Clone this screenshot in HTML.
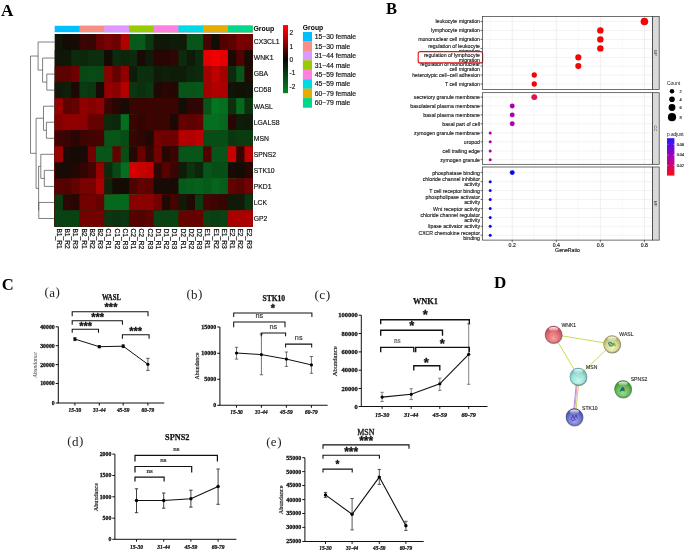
<!DOCTYPE html>
<html lang="en"><head><meta charset="utf-8"><title>Figure</title>
<style>html,body{margin:0;padding:0;background:#fff;}svg{display:block;will-change:transform;}text{white-space:pre;}</style>
</head><body>
<svg width="685" height="552" viewBox="0 0 685 552">
<rect x="0.00" y="0.00" width="685.00" height="552.00" fill="#fff" stroke="none" stroke-width="1"/>
<g id="panelA">
<text x="1.10" y="15.70" font-size="17.2" text-anchor="start" font-family='"Liberation Serif", serif' font-weight="bold" font-style="normal" fill="#000">A</text>
<rect x="54.70" y="25.80" width="198.00" height="6.40" fill="#00BFFF" stroke="none" stroke-width="1"/>
<rect x="79.45" y="25.80" width="173.25" height="6.40" fill="#FB8E84" stroke="none" stroke-width="1"/>
<rect x="104.20" y="25.80" width="148.50" height="6.40" fill="#DD99FF" stroke="none" stroke-width="1"/>
<rect x="128.95" y="25.80" width="123.75" height="6.40" fill="#99CC00" stroke="none" stroke-width="1"/>
<rect x="153.70" y="25.80" width="99.00" height="6.40" fill="#FF80DF" stroke="none" stroke-width="1"/>
<rect x="178.45" y="25.80" width="74.25" height="6.40" fill="#00D9E6" stroke="none" stroke-width="1"/>
<rect x="203.20" y="25.80" width="49.50" height="6.40" fill="#E6AC00" stroke="none" stroke-width="1"/>
<rect x="227.95" y="25.80" width="24.75" height="6.40" fill="#00D98C" stroke="none" stroke-width="1"/>
<rect x="54.70" y="34.00" width="198.00" height="192.50" fill="rgb(16,21,7)" stroke="none" stroke-width="1"/>
<rect x="62.95" y="34.00" width="189.75" height="192.50" fill="rgb(18,12,5)" stroke="none" stroke-width="1"/>
<rect x="71.20" y="34.00" width="181.50" height="192.50" fill="rgb(24,10,4)" stroke="none" stroke-width="1"/>
<rect x="79.45" y="34.00" width="173.25" height="192.50" fill="rgb(60,4,2)" stroke="none" stroke-width="1"/>
<rect x="87.70" y="34.00" width="165.00" height="192.50" fill="rgb(55,5,2)" stroke="none" stroke-width="1"/>
<rect x="95.95" y="34.00" width="156.75" height="192.50" fill="rgb(103,1,1)" stroke="none" stroke-width="1"/>
<rect x="104.20" y="34.00" width="148.50" height="192.50" fill="rgb(121,1,1)" stroke="none" stroke-width="1"/>
<rect x="112.45" y="34.00" width="140.25" height="192.50" fill="rgb(109,1,1)" stroke="none" stroke-width="1"/>
<rect x="120.70" y="34.00" width="132.00" height="192.50" fill="rgb(176,0,0)" stroke="none" stroke-width="1"/>
<rect x="128.95" y="34.00" width="123.75" height="192.50" fill="rgb(6,91,26)" stroke="none" stroke-width="1"/>
<rect x="137.20" y="34.00" width="115.50" height="192.50" fill="rgb(6,91,26)" stroke="none" stroke-width="1"/>
<rect x="145.45" y="34.00" width="107.25" height="192.50" fill="rgb(10,54,16)" stroke="none" stroke-width="1"/>
<rect x="153.70" y="34.00" width="99.00" height="192.50" fill="rgb(15,24,8)" stroke="none" stroke-width="1"/>
<rect x="161.95" y="34.00" width="90.75" height="192.50" fill="rgb(15,24,8)" stroke="none" stroke-width="1"/>
<rect x="170.20" y="34.00" width="82.50" height="192.50" fill="rgb(14,29,9)" stroke="none" stroke-width="1"/>
<rect x="178.45" y="34.00" width="74.25" height="192.50" fill="rgb(15,26,9)" stroke="none" stroke-width="1"/>
<rect x="186.70" y="34.00" width="66.00" height="192.50" fill="rgb(7,85,24)" stroke="none" stroke-width="1"/>
<rect x="194.95" y="34.00" width="57.75" height="192.50" fill="rgb(7,85,24)" stroke="none" stroke-width="1"/>
<rect x="203.20" y="34.00" width="49.50" height="192.50" fill="rgb(71,3,2)" stroke="none" stroke-width="1"/>
<rect x="211.45" y="34.00" width="41.25" height="192.50" fill="rgb(17,15,5)" stroke="none" stroke-width="1"/>
<rect x="219.70" y="34.00" width="33.00" height="192.50" fill="rgb(81,2,1)" stroke="none" stroke-width="1"/>
<rect x="227.95" y="34.00" width="24.75" height="192.50" fill="rgb(92,2,1)" stroke="none" stroke-width="1"/>
<rect x="236.20" y="34.00" width="16.50" height="192.50" fill="rgb(121,1,1)" stroke="none" stroke-width="1"/>
<rect x="244.45" y="34.00" width="8.25" height="192.50" fill="rgb(115,1,1)" stroke="none" stroke-width="1"/>
<rect x="54.70" y="50.04" width="198.00" height="176.46" fill="rgb(15,24,8)" stroke="none" stroke-width="1"/>
<rect x="62.95" y="50.04" width="189.75" height="176.46" fill="rgb(15,24,8)" stroke="none" stroke-width="1"/>
<rect x="71.20" y="50.04" width="181.50" height="176.46" fill="rgb(12,43,13)" stroke="none" stroke-width="1"/>
<rect x="79.45" y="50.04" width="173.25" height="176.46" fill="rgb(12,40,12)" stroke="none" stroke-width="1"/>
<rect x="87.70" y="50.04" width="165.00" height="176.46" fill="rgb(12,45,14)" stroke="none" stroke-width="1"/>
<rect x="95.95" y="50.04" width="156.75" height="176.46" fill="rgb(12,45,14)" stroke="none" stroke-width="1"/>
<rect x="104.20" y="50.04" width="148.50" height="176.46" fill="rgb(21,11,5)" stroke="none" stroke-width="1"/>
<rect x="112.45" y="50.04" width="140.25" height="176.46" fill="rgb(12,43,13)" stroke="none" stroke-width="1"/>
<rect x="120.70" y="50.04" width="132.00" height="176.46" fill="rgb(13,37,11)" stroke="none" stroke-width="1"/>
<rect x="128.95" y="50.04" width="123.75" height="176.46" fill="rgb(12,43,13)" stroke="none" stroke-width="1"/>
<rect x="137.20" y="50.04" width="115.50" height="176.46" fill="rgb(24,10,4)" stroke="none" stroke-width="1"/>
<rect x="145.45" y="50.04" width="107.25" height="176.46" fill="rgb(15,26,9)" stroke="none" stroke-width="1"/>
<rect x="153.70" y="50.04" width="99.00" height="176.46" fill="rgb(41,6,3)" stroke="none" stroke-width="1"/>
<rect x="161.95" y="50.04" width="90.75" height="176.46" fill="rgb(41,6,3)" stroke="none" stroke-width="1"/>
<rect x="170.20" y="50.04" width="82.50" height="176.46" fill="rgb(46,6,3)" stroke="none" stroke-width="1"/>
<rect x="178.45" y="50.04" width="74.25" height="176.46" fill="rgb(12,43,13)" stroke="none" stroke-width="1"/>
<rect x="186.70" y="50.04" width="66.00" height="176.46" fill="rgb(15,26,9)" stroke="none" stroke-width="1"/>
<rect x="194.95" y="50.04" width="57.75" height="176.46" fill="rgb(12,43,13)" stroke="none" stroke-width="1"/>
<rect x="203.20" y="50.04" width="49.50" height="176.46" fill="rgb(228,0,0)" stroke="none" stroke-width="1"/>
<rect x="211.45" y="50.04" width="41.25" height="176.46" fill="rgb(241,0,0)" stroke="none" stroke-width="1"/>
<rect x="219.70" y="50.04" width="33.00" height="176.46" fill="rgb(228,0,0)" stroke="none" stroke-width="1"/>
<rect x="227.95" y="50.04" width="24.75" height="176.46" fill="rgb(28,9,4)" stroke="none" stroke-width="1"/>
<rect x="236.20" y="50.04" width="16.50" height="176.46" fill="rgb(81,2,1)" stroke="none" stroke-width="1"/>
<rect x="244.45" y="50.04" width="8.25" height="176.46" fill="rgb(24,10,4)" stroke="none" stroke-width="1"/>
<rect x="54.70" y="66.08" width="198.00" height="160.42" fill="rgb(92,2,1)" stroke="none" stroke-width="1"/>
<rect x="62.95" y="66.08" width="189.75" height="160.42" fill="rgb(92,2,1)" stroke="none" stroke-width="1"/>
<rect x="71.20" y="66.08" width="181.50" height="160.42" fill="rgb(109,1,1)" stroke="none" stroke-width="1"/>
<rect x="79.45" y="66.08" width="173.25" height="160.42" fill="rgb(8,72,21)" stroke="none" stroke-width="1"/>
<rect x="87.70" y="66.08" width="165.00" height="160.42" fill="rgb(8,75,21)" stroke="none" stroke-width="1"/>
<rect x="95.95" y="66.08" width="156.75" height="160.42" fill="rgb(8,72,21)" stroke="none" stroke-width="1"/>
<rect x="104.20" y="66.08" width="148.50" height="160.42" fill="rgb(139,0,0)" stroke="none" stroke-width="1"/>
<rect x="112.45" y="66.08" width="140.25" height="160.42" fill="rgb(98,2,1)" stroke="none" stroke-width="1"/>
<rect x="120.70" y="66.08" width="132.00" height="160.42" fill="rgb(145,0,0)" stroke="none" stroke-width="1"/>
<rect x="128.95" y="66.08" width="123.75" height="160.42" fill="rgb(14,29,9)" stroke="none" stroke-width="1"/>
<rect x="137.20" y="66.08" width="115.50" height="160.42" fill="rgb(11,48,14)" stroke="none" stroke-width="1"/>
<rect x="145.45" y="66.08" width="107.25" height="160.42" fill="rgb(12,45,14)" stroke="none" stroke-width="1"/>
<rect x="153.70" y="66.08" width="99.00" height="160.42" fill="rgb(15,26,9)" stroke="none" stroke-width="1"/>
<rect x="161.95" y="66.08" width="90.75" height="160.42" fill="rgb(14,32,10)" stroke="none" stroke-width="1"/>
<rect x="170.20" y="66.08" width="82.50" height="160.42" fill="rgb(14,29,9)" stroke="none" stroke-width="1"/>
<rect x="178.45" y="66.08" width="74.25" height="160.42" fill="rgb(14,29,9)" stroke="none" stroke-width="1"/>
<rect x="186.70" y="66.08" width="66.00" height="160.42" fill="rgb(12,40,12)" stroke="none" stroke-width="1"/>
<rect x="194.95" y="66.08" width="57.75" height="160.42" fill="rgb(12,43,13)" stroke="none" stroke-width="1"/>
<rect x="203.20" y="66.08" width="49.50" height="160.42" fill="rgb(163,0,0)" stroke="none" stroke-width="1"/>
<rect x="211.45" y="66.08" width="41.25" height="160.42" fill="rgb(189,0,0)" stroke="none" stroke-width="1"/>
<rect x="219.70" y="66.08" width="33.00" height="160.42" fill="rgb(163,0,0)" stroke="none" stroke-width="1"/>
<rect x="227.95" y="66.08" width="24.75" height="160.42" fill="rgb(12,43,13)" stroke="none" stroke-width="1"/>
<rect x="236.20" y="66.08" width="16.50" height="160.42" fill="rgb(7,85,24)" stroke="none" stroke-width="1"/>
<rect x="244.45" y="66.08" width="8.25" height="160.42" fill="rgb(36,7,3)" stroke="none" stroke-width="1"/>
<rect x="54.70" y="82.12" width="198.00" height="144.38" fill="rgb(15,26,9)" stroke="none" stroke-width="1"/>
<rect x="62.95" y="82.12" width="189.75" height="144.38" fill="rgb(14,32,10)" stroke="none" stroke-width="1"/>
<rect x="71.20" y="82.12" width="181.50" height="144.38" fill="rgb(28,9,4)" stroke="none" stroke-width="1"/>
<rect x="79.45" y="82.12" width="173.25" height="144.38" fill="rgb(10,60,17)" stroke="none" stroke-width="1"/>
<rect x="87.70" y="82.12" width="165.00" height="144.38" fill="rgb(10,54,16)" stroke="none" stroke-width="1"/>
<rect x="95.95" y="82.12" width="156.75" height="144.38" fill="rgb(24,10,4)" stroke="none" stroke-width="1"/>
<rect x="104.20" y="82.12" width="148.50" height="144.38" fill="rgb(151,0,0)" stroke="none" stroke-width="1"/>
<rect x="112.45" y="82.12" width="140.25" height="144.38" fill="rgb(139,0,0)" stroke="none" stroke-width="1"/>
<rect x="120.70" y="82.12" width="132.00" height="144.38" fill="rgb(182,0,0)" stroke="none" stroke-width="1"/>
<rect x="128.95" y="82.12" width="123.75" height="144.38" fill="rgb(10,54,16)" stroke="none" stroke-width="1"/>
<rect x="137.20" y="82.12" width="115.50" height="144.38" fill="rgb(11,48,14)" stroke="none" stroke-width="1"/>
<rect x="145.45" y="82.12" width="107.25" height="144.38" fill="rgb(10,54,16)" stroke="none" stroke-width="1"/>
<rect x="153.70" y="82.12" width="99.00" height="144.38" fill="rgb(32,8,4)" stroke="none" stroke-width="1"/>
<rect x="161.95" y="82.12" width="90.75" height="144.38" fill="rgb(41,6,3)" stroke="none" stroke-width="1"/>
<rect x="170.20" y="82.12" width="82.50" height="144.38" fill="rgb(36,7,3)" stroke="none" stroke-width="1"/>
<rect x="178.45" y="82.12" width="74.25" height="144.38" fill="rgb(7,85,24)" stroke="none" stroke-width="1"/>
<rect x="186.70" y="82.12" width="66.00" height="144.38" fill="rgb(7,85,24)" stroke="none" stroke-width="1"/>
<rect x="194.95" y="82.12" width="57.75" height="144.38" fill="rgb(6,88,25)" stroke="none" stroke-width="1"/>
<rect x="203.20" y="82.12" width="49.50" height="144.38" fill="rgb(163,0,0)" stroke="none" stroke-width="1"/>
<rect x="211.45" y="82.12" width="41.25" height="144.38" fill="rgb(176,0,0)" stroke="none" stroke-width="1"/>
<rect x="219.70" y="82.12" width="33.00" height="144.38" fill="rgb(170,0,0)" stroke="none" stroke-width="1"/>
<rect x="227.95" y="82.12" width="24.75" height="144.38" fill="rgb(16,19,7)" stroke="none" stroke-width="1"/>
<rect x="236.20" y="82.12" width="16.50" height="144.38" fill="rgb(17,17,6)" stroke="none" stroke-width="1"/>
<rect x="244.45" y="82.12" width="8.25" height="144.38" fill="rgb(16,19,7)" stroke="none" stroke-width="1"/>
<rect x="54.70" y="98.17" width="198.00" height="128.33" fill="rgb(151,0,0)" stroke="none" stroke-width="1"/>
<rect x="62.95" y="98.17" width="189.75" height="128.33" fill="rgb(92,2,1)" stroke="none" stroke-width="1"/>
<rect x="71.20" y="98.17" width="181.50" height="128.33" fill="rgb(98,2,1)" stroke="none" stroke-width="1"/>
<rect x="79.45" y="98.17" width="173.25" height="128.33" fill="rgb(145,0,0)" stroke="none" stroke-width="1"/>
<rect x="87.70" y="98.17" width="165.00" height="128.33" fill="rgb(133,1,0)" stroke="none" stroke-width="1"/>
<rect x="95.95" y="98.17" width="156.75" height="128.33" fill="rgb(145,0,0)" stroke="none" stroke-width="1"/>
<rect x="104.20" y="98.17" width="148.50" height="128.33" fill="rgb(60,4,2)" stroke="none" stroke-width="1"/>
<rect x="112.45" y="98.17" width="140.25" height="128.33" fill="rgb(39,7,3)" stroke="none" stroke-width="1"/>
<rect x="120.70" y="98.17" width="132.00" height="128.33" fill="rgb(24,10,4)" stroke="none" stroke-width="1"/>
<rect x="128.95" y="98.17" width="123.75" height="128.33" fill="rgb(57,4,2)" stroke="none" stroke-width="1"/>
<rect x="137.20" y="98.17" width="115.50" height="128.33" fill="rgb(57,4,2)" stroke="none" stroke-width="1"/>
<rect x="145.45" y="98.17" width="107.25" height="128.33" fill="rgb(57,4,2)" stroke="none" stroke-width="1"/>
<rect x="153.70" y="98.17" width="99.00" height="128.33" fill="rgb(55,5,2)" stroke="none" stroke-width="1"/>
<rect x="161.95" y="98.17" width="90.75" height="128.33" fill="rgb(57,4,2)" stroke="none" stroke-width="1"/>
<rect x="170.20" y="98.17" width="82.50" height="128.33" fill="rgb(57,4,2)" stroke="none" stroke-width="1"/>
<rect x="178.45" y="98.17" width="74.25" height="128.33" fill="rgb(17,15,5)" stroke="none" stroke-width="1"/>
<rect x="186.70" y="98.17" width="66.00" height="128.33" fill="rgb(46,6,3)" stroke="none" stroke-width="1"/>
<rect x="194.95" y="98.17" width="57.75" height="128.33" fill="rgb(46,6,3)" stroke="none" stroke-width="1"/>
<rect x="203.20" y="98.17" width="49.50" height="128.33" fill="rgb(7,85,24)" stroke="none" stroke-width="1"/>
<rect x="211.45" y="98.17" width="41.25" height="128.33" fill="rgb(4,117,33)" stroke="none" stroke-width="1"/>
<rect x="219.70" y="98.17" width="33.00" height="128.33" fill="rgb(5,111,31)" stroke="none" stroke-width="1"/>
<rect x="227.95" y="98.17" width="24.75" height="128.33" fill="rgb(11,48,14)" stroke="none" stroke-width="1"/>
<rect x="236.20" y="98.17" width="16.50" height="128.33" fill="rgb(5,104,29)" stroke="none" stroke-width="1"/>
<rect x="244.45" y="98.17" width="8.25" height="128.33" fill="rgb(11,48,14)" stroke="none" stroke-width="1"/>
<rect x="54.70" y="114.21" width="198.00" height="112.29" fill="rgb(133,1,0)" stroke="none" stroke-width="1"/>
<rect x="62.95" y="114.21" width="189.75" height="112.29" fill="rgb(145,0,0)" stroke="none" stroke-width="1"/>
<rect x="71.20" y="114.21" width="181.50" height="112.29" fill="rgb(145,0,0)" stroke="none" stroke-width="1"/>
<rect x="79.45" y="114.21" width="173.25" height="112.29" fill="rgb(139,0,0)" stroke="none" stroke-width="1"/>
<rect x="87.70" y="114.21" width="165.00" height="112.29" fill="rgb(103,1,1)" stroke="none" stroke-width="1"/>
<rect x="95.95" y="114.21" width="156.75" height="112.29" fill="rgb(98,2,1)" stroke="none" stroke-width="1"/>
<rect x="104.20" y="114.21" width="148.50" height="112.29" fill="rgb(12,43,13)" stroke="none" stroke-width="1"/>
<rect x="112.45" y="114.21" width="140.25" height="112.29" fill="rgb(12,40,12)" stroke="none" stroke-width="1"/>
<rect x="120.70" y="114.21" width="132.00" height="112.29" fill="rgb(5,111,31)" stroke="none" stroke-width="1"/>
<rect x="128.95" y="114.21" width="123.75" height="112.29" fill="rgb(58,4,2)" stroke="none" stroke-width="1"/>
<rect x="137.20" y="114.21" width="115.50" height="112.29" fill="rgb(50,5,3)" stroke="none" stroke-width="1"/>
<rect x="145.45" y="114.21" width="107.25" height="112.29" fill="rgb(60,4,2)" stroke="none" stroke-width="1"/>
<rect x="153.70" y="114.21" width="99.00" height="112.29" fill="rgb(58,4,2)" stroke="none" stroke-width="1"/>
<rect x="161.95" y="114.21" width="90.75" height="112.29" fill="rgb(58,4,2)" stroke="none" stroke-width="1"/>
<rect x="170.20" y="114.21" width="82.50" height="112.29" fill="rgb(26,9,4)" stroke="none" stroke-width="1"/>
<rect x="178.45" y="114.21" width="74.25" height="112.29" fill="rgb(103,1,1)" stroke="none" stroke-width="1"/>
<rect x="186.70" y="114.21" width="66.00" height="112.29" fill="rgb(92,2,1)" stroke="none" stroke-width="1"/>
<rect x="194.95" y="114.21" width="57.75" height="112.29" fill="rgb(103,1,1)" stroke="none" stroke-width="1"/>
<rect x="203.20" y="114.21" width="49.50" height="112.29" fill="rgb(5,111,31)" stroke="none" stroke-width="1"/>
<rect x="211.45" y="114.21" width="41.25" height="112.29" fill="rgb(5,111,31)" stroke="none" stroke-width="1"/>
<rect x="219.70" y="114.21" width="33.00" height="112.29" fill="rgb(5,104,29)" stroke="none" stroke-width="1"/>
<rect x="227.95" y="114.21" width="24.75" height="112.29" fill="rgb(41,6,3)" stroke="none" stroke-width="1"/>
<rect x="236.20" y="114.21" width="16.50" height="112.29" fill="rgb(14,29,9)" stroke="none" stroke-width="1"/>
<rect x="244.45" y="114.21" width="8.25" height="112.29" fill="rgb(15,26,9)" stroke="none" stroke-width="1"/>
<rect x="54.70" y="130.25" width="198.00" height="96.25" fill="rgb(60,4,2)" stroke="none" stroke-width="1"/>
<rect x="62.95" y="130.25" width="189.75" height="96.25" fill="rgb(55,5,2)" stroke="none" stroke-width="1"/>
<rect x="71.20" y="130.25" width="181.50" height="96.25" fill="rgb(41,6,3)" stroke="none" stroke-width="1"/>
<rect x="79.45" y="130.25" width="173.25" height="96.25" fill="rgb(62,4,2)" stroke="none" stroke-width="1"/>
<rect x="87.70" y="130.25" width="165.00" height="96.25" fill="rgb(65,4,2)" stroke="none" stroke-width="1"/>
<rect x="95.95" y="130.25" width="156.75" height="96.25" fill="rgb(71,3,2)" stroke="none" stroke-width="1"/>
<rect x="104.20" y="130.25" width="148.50" height="96.25" fill="rgb(7,85,24)" stroke="none" stroke-width="1"/>
<rect x="112.45" y="130.25" width="140.25" height="96.25" fill="rgb(7,85,24)" stroke="none" stroke-width="1"/>
<rect x="120.70" y="130.25" width="132.00" height="96.25" fill="rgb(7,78,22)" stroke="none" stroke-width="1"/>
<rect x="128.95" y="130.25" width="123.75" height="96.25" fill="rgb(55,5,2)" stroke="none" stroke-width="1"/>
<rect x="137.20" y="130.25" width="115.50" height="96.25" fill="rgb(46,6,3)" stroke="none" stroke-width="1"/>
<rect x="145.45" y="130.25" width="107.25" height="96.25" fill="rgb(32,8,4)" stroke="none" stroke-width="1"/>
<rect x="153.70" y="130.25" width="99.00" height="96.25" fill="rgb(115,1,1)" stroke="none" stroke-width="1"/>
<rect x="161.95" y="130.25" width="90.75" height="96.25" fill="rgb(109,1,1)" stroke="none" stroke-width="1"/>
<rect x="170.20" y="130.25" width="82.50" height="96.25" fill="rgb(109,1,1)" stroke="none" stroke-width="1"/>
<rect x="178.45" y="130.25" width="74.25" height="96.25" fill="rgb(182,0,0)" stroke="none" stroke-width="1"/>
<rect x="186.70" y="130.25" width="66.00" height="96.25" fill="rgb(176,0,0)" stroke="none" stroke-width="1"/>
<rect x="194.95" y="130.25" width="57.75" height="96.25" fill="rgb(189,0,0)" stroke="none" stroke-width="1"/>
<rect x="203.20" y="130.25" width="49.50" height="96.25" fill="rgb(7,78,22)" stroke="none" stroke-width="1"/>
<rect x="211.45" y="130.25" width="41.25" height="96.25" fill="rgb(7,78,22)" stroke="none" stroke-width="1"/>
<rect x="219.70" y="130.25" width="33.00" height="96.25" fill="rgb(7,78,22)" stroke="none" stroke-width="1"/>
<rect x="227.95" y="130.25" width="24.75" height="96.25" fill="rgb(10,54,16)" stroke="none" stroke-width="1"/>
<rect x="236.20" y="130.25" width="16.50" height="96.25" fill="rgb(10,60,17)" stroke="none" stroke-width="1"/>
<rect x="244.45" y="130.25" width="8.25" height="96.25" fill="rgb(10,60,17)" stroke="none" stroke-width="1"/>
<rect x="54.70" y="146.29" width="198.00" height="80.21" fill="rgb(157,0,0)" stroke="none" stroke-width="1"/>
<rect x="62.95" y="146.29" width="189.75" height="80.21" fill="rgb(26,9,4)" stroke="none" stroke-width="1"/>
<rect x="71.20" y="146.29" width="181.50" height="80.21" fill="rgb(21,11,5)" stroke="none" stroke-width="1"/>
<rect x="79.45" y="146.29" width="173.25" height="80.21" fill="rgb(24,10,4)" stroke="none" stroke-width="1"/>
<rect x="87.70" y="146.29" width="165.00" height="80.21" fill="rgb(115,1,1)" stroke="none" stroke-width="1"/>
<rect x="95.95" y="146.29" width="156.75" height="80.21" fill="rgb(7,85,24)" stroke="none" stroke-width="1"/>
<rect x="104.20" y="146.29" width="148.50" height="80.21" fill="rgb(7,85,24)" stroke="none" stroke-width="1"/>
<rect x="112.45" y="146.29" width="140.25" height="80.21" fill="rgb(101,1,1)" stroke="none" stroke-width="1"/>
<rect x="120.70" y="146.29" width="132.00" height="80.21" fill="rgb(7,78,22)" stroke="none" stroke-width="1"/>
<rect x="128.95" y="146.29" width="123.75" height="80.21" fill="rgb(38,7,3)" stroke="none" stroke-width="1"/>
<rect x="137.20" y="146.29" width="115.50" height="80.21" fill="rgb(106,1,1)" stroke="none" stroke-width="1"/>
<rect x="145.45" y="146.29" width="107.25" height="80.21" fill="rgb(46,6,3)" stroke="none" stroke-width="1"/>
<rect x="153.70" y="146.29" width="99.00" height="80.21" fill="rgb(115,1,1)" stroke="none" stroke-width="1"/>
<rect x="161.95" y="146.29" width="90.75" height="80.21" fill="rgb(39,7,3)" stroke="none" stroke-width="1"/>
<rect x="170.20" y="146.29" width="82.50" height="80.21" fill="rgb(60,4,2)" stroke="none" stroke-width="1"/>
<rect x="178.45" y="146.29" width="74.25" height="80.21" fill="rgb(7,85,24)" stroke="none" stroke-width="1"/>
<rect x="186.70" y="146.29" width="66.00" height="80.21" fill="rgb(7,85,24)" stroke="none" stroke-width="1"/>
<rect x="194.95" y="146.29" width="57.75" height="80.21" fill="rgb(7,85,24)" stroke="none" stroke-width="1"/>
<rect x="203.20" y="146.29" width="49.50" height="80.21" fill="rgb(81,2,1)" stroke="none" stroke-width="1"/>
<rect x="211.45" y="146.29" width="41.25" height="80.21" fill="rgb(7,85,24)" stroke="none" stroke-width="1"/>
<rect x="219.70" y="146.29" width="33.00" height="80.21" fill="rgb(7,85,24)" stroke="none" stroke-width="1"/>
<rect x="227.95" y="146.29" width="24.75" height="80.21" fill="rgb(201,0,0)" stroke="none" stroke-width="1"/>
<rect x="236.20" y="146.29" width="16.50" height="80.21" fill="rgb(50,5,3)" stroke="none" stroke-width="1"/>
<rect x="244.45" y="146.29" width="8.25" height="80.21" fill="rgb(189,0,0)" stroke="none" stroke-width="1"/>
<rect x="54.70" y="162.33" width="198.00" height="64.17" fill="rgb(24,10,4)" stroke="none" stroke-width="1"/>
<rect x="62.95" y="162.33" width="189.75" height="64.17" fill="rgb(24,10,4)" stroke="none" stroke-width="1"/>
<rect x="71.20" y="162.33" width="181.50" height="64.17" fill="rgb(36,7,3)" stroke="none" stroke-width="1"/>
<rect x="79.45" y="162.33" width="173.25" height="64.17" fill="rgb(50,5,3)" stroke="none" stroke-width="1"/>
<rect x="87.70" y="162.33" width="165.00" height="64.17" fill="rgb(71,3,2)" stroke="none" stroke-width="1"/>
<rect x="95.95" y="162.33" width="156.75" height="64.17" fill="rgb(151,0,0)" stroke="none" stroke-width="1"/>
<rect x="104.20" y="162.33" width="148.50" height="64.17" fill="rgb(12,43,13)" stroke="none" stroke-width="1"/>
<rect x="112.45" y="162.33" width="140.25" height="64.17" fill="rgb(8,72,21)" stroke="none" stroke-width="1"/>
<rect x="120.70" y="162.33" width="132.00" height="64.17" fill="rgb(5,111,31)" stroke="none" stroke-width="1"/>
<rect x="128.95" y="162.33" width="123.75" height="64.17" fill="rgb(214,0,0)" stroke="none" stroke-width="1"/>
<rect x="137.20" y="162.33" width="115.50" height="64.17" fill="rgb(201,0,0)" stroke="none" stroke-width="1"/>
<rect x="145.45" y="162.33" width="107.25" height="64.17" fill="rgb(195,0,0)" stroke="none" stroke-width="1"/>
<rect x="153.70" y="162.33" width="99.00" height="64.17" fill="rgb(46,6,3)" stroke="none" stroke-width="1"/>
<rect x="161.95" y="162.33" width="90.75" height="64.17" fill="rgb(87,2,1)" stroke="none" stroke-width="1"/>
<rect x="170.20" y="162.33" width="82.50" height="64.17" fill="rgb(60,4,2)" stroke="none" stroke-width="1"/>
<rect x="178.45" y="162.33" width="74.25" height="64.17" fill="rgb(14,29,9)" stroke="none" stroke-width="1"/>
<rect x="186.70" y="162.33" width="66.00" height="64.17" fill="rgb(11,51,15)" stroke="none" stroke-width="1"/>
<rect x="194.95" y="162.33" width="57.75" height="64.17" fill="rgb(13,37,11)" stroke="none" stroke-width="1"/>
<rect x="203.20" y="162.33" width="49.50" height="64.17" fill="rgb(7,85,24)" stroke="none" stroke-width="1"/>
<rect x="211.45" y="162.33" width="41.25" height="64.17" fill="rgb(7,78,22)" stroke="none" stroke-width="1"/>
<rect x="219.70" y="162.33" width="33.00" height="64.17" fill="rgb(7,78,22)" stroke="none" stroke-width="1"/>
<rect x="227.95" y="162.33" width="24.75" height="64.17" fill="rgb(24,10,4)" stroke="none" stroke-width="1"/>
<rect x="236.20" y="162.33" width="16.50" height="64.17" fill="rgb(18,12,5)" stroke="none" stroke-width="1"/>
<rect x="244.45" y="162.33" width="8.25" height="64.17" fill="rgb(41,6,3)" stroke="none" stroke-width="1"/>
<rect x="54.70" y="178.38" width="198.00" height="48.12" fill="rgb(87,2,1)" stroke="none" stroke-width="1"/>
<rect x="62.95" y="178.38" width="189.75" height="48.12" fill="rgb(81,2,1)" stroke="none" stroke-width="1"/>
<rect x="71.20" y="178.38" width="181.50" height="48.12" fill="rgb(98,2,1)" stroke="none" stroke-width="1"/>
<rect x="79.45" y="178.38" width="173.25" height="48.12" fill="rgb(121,1,1)" stroke="none" stroke-width="1"/>
<rect x="87.70" y="178.38" width="165.00" height="48.12" fill="rgb(121,1,1)" stroke="none" stroke-width="1"/>
<rect x="95.95" y="178.38" width="156.75" height="48.12" fill="rgb(170,0,0)" stroke="none" stroke-width="1"/>
<rect x="104.20" y="178.38" width="148.50" height="48.12" fill="rgb(13,37,11)" stroke="none" stroke-width="1"/>
<rect x="112.45" y="178.38" width="140.25" height="48.12" fill="rgb(21,11,5)" stroke="none" stroke-width="1"/>
<rect x="120.70" y="178.38" width="132.00" height="48.12" fill="rgb(18,12,5)" stroke="none" stroke-width="1"/>
<rect x="128.95" y="178.38" width="123.75" height="48.12" fill="rgb(76,3,2)" stroke="none" stroke-width="1"/>
<rect x="137.20" y="178.38" width="115.50" height="48.12" fill="rgb(98,2,1)" stroke="none" stroke-width="1"/>
<rect x="145.45" y="178.38" width="107.25" height="48.12" fill="rgb(92,2,1)" stroke="none" stroke-width="1"/>
<rect x="153.70" y="178.38" width="99.00" height="48.12" fill="rgb(24,10,4)" stroke="none" stroke-width="1"/>
<rect x="161.95" y="178.38" width="90.75" height="48.12" fill="rgb(24,10,4)" stroke="none" stroke-width="1"/>
<rect x="170.20" y="178.38" width="82.50" height="48.12" fill="rgb(26,9,4)" stroke="none" stroke-width="1"/>
<rect x="178.45" y="178.38" width="74.25" height="48.12" fill="rgb(6,91,26)" stroke="none" stroke-width="1"/>
<rect x="186.70" y="178.38" width="66.00" height="48.12" fill="rgb(6,94,26)" stroke="none" stroke-width="1"/>
<rect x="194.95" y="178.38" width="57.75" height="48.12" fill="rgb(6,98,27)" stroke="none" stroke-width="1"/>
<rect x="203.20" y="178.38" width="49.50" height="48.12" fill="rgb(6,91,26)" stroke="none" stroke-width="1"/>
<rect x="211.45" y="178.38" width="41.25" height="48.12" fill="rgb(5,101,28)" stroke="none" stroke-width="1"/>
<rect x="219.70" y="178.38" width="33.00" height="48.12" fill="rgb(6,94,26)" stroke="none" stroke-width="1"/>
<rect x="227.95" y="178.38" width="24.75" height="48.12" fill="rgb(98,2,1)" stroke="none" stroke-width="1"/>
<rect x="236.20" y="178.38" width="16.50" height="48.12" fill="rgb(90,2,1)" stroke="none" stroke-width="1"/>
<rect x="244.45" y="178.38" width="8.25" height="48.12" fill="rgb(115,1,1)" stroke="none" stroke-width="1"/>
<rect x="54.70" y="194.42" width="198.00" height="32.08" fill="rgb(10,60,17)" stroke="none" stroke-width="1"/>
<rect x="62.95" y="194.42" width="189.75" height="32.08" fill="rgb(46,6,3)" stroke="none" stroke-width="1"/>
<rect x="71.20" y="194.42" width="181.50" height="32.08" fill="rgb(41,6,3)" stroke="none" stroke-width="1"/>
<rect x="79.45" y="194.42" width="173.25" height="32.08" fill="rgb(115,1,1)" stroke="none" stroke-width="1"/>
<rect x="87.70" y="194.42" width="165.00" height="32.08" fill="rgb(115,1,1)" stroke="none" stroke-width="1"/>
<rect x="95.95" y="194.42" width="156.75" height="32.08" fill="rgb(103,1,1)" stroke="none" stroke-width="1"/>
<rect x="104.20" y="194.42" width="148.50" height="32.08" fill="rgb(5,104,29)" stroke="none" stroke-width="1"/>
<rect x="112.45" y="194.42" width="140.25" height="32.08" fill="rgb(5,104,29)" stroke="none" stroke-width="1"/>
<rect x="120.70" y="194.42" width="132.00" height="32.08" fill="rgb(5,104,29)" stroke="none" stroke-width="1"/>
<rect x="128.95" y="194.42" width="123.75" height="32.08" fill="rgb(139,0,0)" stroke="none" stroke-width="1"/>
<rect x="137.20" y="194.42" width="115.50" height="32.08" fill="rgb(139,0,0)" stroke="none" stroke-width="1"/>
<rect x="145.45" y="194.42" width="107.25" height="32.08" fill="rgb(139,0,0)" stroke="none" stroke-width="1"/>
<rect x="153.70" y="194.42" width="99.00" height="32.08" fill="rgb(115,1,1)" stroke="none" stroke-width="1"/>
<rect x="161.95" y="194.42" width="90.75" height="32.08" fill="rgb(32,8,4)" stroke="none" stroke-width="1"/>
<rect x="170.20" y="194.42" width="82.50" height="32.08" fill="rgb(71,3,2)" stroke="none" stroke-width="1"/>
<rect x="178.45" y="194.42" width="74.25" height="32.08" fill="rgb(15,26,9)" stroke="none" stroke-width="1"/>
<rect x="186.70" y="194.42" width="66.00" height="32.08" fill="rgb(32,8,4)" stroke="none" stroke-width="1"/>
<rect x="194.95" y="194.42" width="57.75" height="32.08" fill="rgb(10,60,17)" stroke="none" stroke-width="1"/>
<rect x="203.20" y="194.42" width="49.50" height="32.08" fill="rgb(71,3,2)" stroke="none" stroke-width="1"/>
<rect x="211.45" y="194.42" width="41.25" height="32.08" fill="rgb(60,4,2)" stroke="none" stroke-width="1"/>
<rect x="219.70" y="194.42" width="33.00" height="32.08" fill="rgb(55,5,2)" stroke="none" stroke-width="1"/>
<rect x="227.95" y="194.42" width="24.75" height="32.08" fill="rgb(15,26,9)" stroke="none" stroke-width="1"/>
<rect x="236.20" y="194.42" width="16.50" height="32.08" fill="rgb(15,26,9)" stroke="none" stroke-width="1"/>
<rect x="244.45" y="194.42" width="8.25" height="32.08" fill="rgb(10,54,16)" stroke="none" stroke-width="1"/>
<rect x="54.70" y="210.46" width="198.00" height="16.04" fill="rgb(9,66,19)" stroke="none" stroke-width="1"/>
<rect x="62.95" y="210.46" width="189.75" height="16.04" fill="rgb(9,66,19)" stroke="none" stroke-width="1"/>
<rect x="71.20" y="210.46" width="181.50" height="16.04" fill="rgb(9,66,19)" stroke="none" stroke-width="1"/>
<rect x="79.45" y="210.46" width="173.25" height="16.04" fill="rgb(115,1,1)" stroke="none" stroke-width="1"/>
<rect x="87.70" y="210.46" width="165.00" height="16.04" fill="rgb(115,1,1)" stroke="none" stroke-width="1"/>
<rect x="95.95" y="210.46" width="156.75" height="16.04" fill="rgb(115,1,1)" stroke="none" stroke-width="1"/>
<rect x="104.20" y="210.46" width="148.50" height="16.04" fill="rgb(10,54,16)" stroke="none" stroke-width="1"/>
<rect x="112.45" y="210.46" width="140.25" height="16.04" fill="rgb(11,51,15)" stroke="none" stroke-width="1"/>
<rect x="120.70" y="210.46" width="132.00" height="16.04" fill="rgb(10,54,16)" stroke="none" stroke-width="1"/>
<rect x="128.95" y="210.46" width="123.75" height="16.04" fill="rgb(87,2,1)" stroke="none" stroke-width="1"/>
<rect x="137.20" y="210.46" width="115.50" height="16.04" fill="rgb(81,2,1)" stroke="none" stroke-width="1"/>
<rect x="145.45" y="210.46" width="107.25" height="16.04" fill="rgb(92,2,1)" stroke="none" stroke-width="1"/>
<rect x="153.70" y="210.46" width="99.00" height="16.04" fill="rgb(9,66,19)" stroke="none" stroke-width="1"/>
<rect x="161.95" y="210.46" width="90.75" height="16.04" fill="rgb(9,66,19)" stroke="none" stroke-width="1"/>
<rect x="170.20" y="210.46" width="82.50" height="16.04" fill="rgb(9,66,19)" stroke="none" stroke-width="1"/>
<rect x="178.45" y="210.46" width="74.25" height="16.04" fill="rgb(103,1,1)" stroke="none" stroke-width="1"/>
<rect x="186.70" y="210.46" width="66.00" height="16.04" fill="rgb(98,2,1)" stroke="none" stroke-width="1"/>
<rect x="194.95" y="210.46" width="57.75" height="16.04" fill="rgb(103,1,1)" stroke="none" stroke-width="1"/>
<rect x="203.20" y="210.46" width="49.50" height="16.04" fill="rgb(9,66,19)" stroke="none" stroke-width="1"/>
<rect x="211.45" y="210.46" width="41.25" height="16.04" fill="rgb(9,63,18)" stroke="none" stroke-width="1"/>
<rect x="219.70" y="210.46" width="33.00" height="16.04" fill="rgb(9,66,19)" stroke="none" stroke-width="1"/>
<rect x="227.95" y="210.46" width="24.75" height="16.04" fill="rgb(170,0,0)" stroke="none" stroke-width="1"/>
<rect x="236.20" y="210.46" width="16.50" height="16.04" fill="rgb(170,0,0)" stroke="none" stroke-width="1"/>
<rect x="244.45" y="210.46" width="8.25" height="16.04" fill="rgb(170,0,0)" stroke="none" stroke-width="1"/>
<text x="253.40" y="31.20" font-size="7.0" text-anchor="start" font-family='"Liberation Sans", sans-serif' font-weight="bold" font-style="normal" fill="#000">Group</text>
<text x="253.80" y="44.03" font-size="6.8" text-anchor="start" font-family='"Liberation Sans", sans-serif' font-weight="normal" font-style="normal" fill="#111" stroke="#111" stroke-width="0.16">CX3CL1</text>
<text x="253.80" y="60.16" font-size="6.8" text-anchor="start" font-family='"Liberation Sans", sans-serif' font-weight="normal" font-style="normal" fill="#111" stroke="#111" stroke-width="0.16">WNK1</text>
<text x="253.80" y="76.29" font-size="6.8" text-anchor="start" font-family='"Liberation Sans", sans-serif' font-weight="normal" font-style="normal" fill="#111" stroke="#111" stroke-width="0.16">GBA</text>
<text x="253.80" y="92.42" font-size="6.8" text-anchor="start" font-family='"Liberation Sans", sans-serif' font-weight="normal" font-style="normal" fill="#111" stroke="#111" stroke-width="0.16">CD58</text>
<text x="253.80" y="108.55" font-size="6.8" text-anchor="start" font-family='"Liberation Sans", sans-serif' font-weight="normal" font-style="normal" fill="#111" stroke="#111" stroke-width="0.16">WASL</text>
<text x="253.80" y="124.68" font-size="6.8" text-anchor="start" font-family='"Liberation Sans", sans-serif' font-weight="normal" font-style="normal" fill="#111" stroke="#111" stroke-width="0.16">LGALS8</text>
<text x="253.80" y="140.81" font-size="6.8" text-anchor="start" font-family='"Liberation Sans", sans-serif' font-weight="normal" font-style="normal" fill="#111" stroke="#111" stroke-width="0.16">MSN</text>
<text x="253.80" y="156.94" font-size="6.8" text-anchor="start" font-family='"Liberation Sans", sans-serif' font-weight="normal" font-style="normal" fill="#111" stroke="#111" stroke-width="0.16">SPNS2</text>
<text x="253.80" y="173.07" font-size="6.8" text-anchor="start" font-family='"Liberation Sans", sans-serif' font-weight="normal" font-style="normal" fill="#111" stroke="#111" stroke-width="0.16">STK10</text>
<text x="253.80" y="189.20" font-size="6.8" text-anchor="start" font-family='"Liberation Sans", sans-serif' font-weight="normal" font-style="normal" fill="#111" stroke="#111" stroke-width="0.16">PKD1</text>
<text x="253.80" y="205.33" font-size="6.8" text-anchor="start" font-family='"Liberation Sans", sans-serif' font-weight="normal" font-style="normal" fill="#111" stroke="#111" stroke-width="0.16">LCK</text>
<text x="253.80" y="221.46" font-size="6.8" text-anchor="start" font-family='"Liberation Sans", sans-serif' font-weight="normal" font-style="normal" fill="#111" stroke="#111" stroke-width="0.16">GP2</text>
<text x="56.78" y="228.40" font-size="6.7" text-anchor="start" font-family='"Liberation Sans", sans-serif' font-weight="normal" font-style="normal" fill="#111" transform="rotate(90 56.78 228.40)" stroke="#111" stroke-width="0.22">B1_R1</text>
<text x="65.03" y="228.40" font-size="6.7" text-anchor="start" font-family='"Liberation Sans", sans-serif' font-weight="normal" font-style="normal" fill="#111" transform="rotate(90 65.03 228.40)" stroke="#111" stroke-width="0.22">B1_R2</text>
<text x="73.28" y="228.40" font-size="6.7" text-anchor="start" font-family='"Liberation Sans", sans-serif' font-weight="normal" font-style="normal" fill="#111" transform="rotate(90 73.28 228.40)" stroke="#111" stroke-width="0.22">B1_R3</text>
<text x="81.53" y="228.40" font-size="6.7" text-anchor="start" font-family='"Liberation Sans", sans-serif' font-weight="normal" font-style="normal" fill="#111" transform="rotate(90 81.53 228.40)" stroke="#111" stroke-width="0.22">B2_R1</text>
<text x="89.78" y="228.40" font-size="6.7" text-anchor="start" font-family='"Liberation Sans", sans-serif' font-weight="normal" font-style="normal" fill="#111" transform="rotate(90 89.78 228.40)" stroke="#111" stroke-width="0.22">B2_R2</text>
<text x="98.03" y="228.40" font-size="6.7" text-anchor="start" font-family='"Liberation Sans", sans-serif' font-weight="normal" font-style="normal" fill="#111" transform="rotate(90 98.03 228.40)" stroke="#111" stroke-width="0.22">B2_R3</text>
<text x="106.28" y="228.40" font-size="6.7" text-anchor="start" font-family='"Liberation Sans", sans-serif' font-weight="normal" font-style="normal" fill="#111" transform="rotate(90 106.28 228.40)" stroke="#111" stroke-width="0.22">C1_R1</text>
<text x="114.53" y="228.40" font-size="6.7" text-anchor="start" font-family='"Liberation Sans", sans-serif' font-weight="normal" font-style="normal" fill="#111" transform="rotate(90 114.53 228.40)" stroke="#111" stroke-width="0.22">C1_R2</text>
<text x="122.78" y="228.40" font-size="6.7" text-anchor="start" font-family='"Liberation Sans", sans-serif' font-weight="normal" font-style="normal" fill="#111" transform="rotate(90 122.78 228.40)" stroke="#111" stroke-width="0.22">C1_R3</text>
<text x="131.02" y="228.40" font-size="6.7" text-anchor="start" font-family='"Liberation Sans", sans-serif' font-weight="normal" font-style="normal" fill="#111" transform="rotate(90 131.02 228.40)" stroke="#111" stroke-width="0.22">C2_R1</text>
<text x="139.27" y="228.40" font-size="6.7" text-anchor="start" font-family='"Liberation Sans", sans-serif' font-weight="normal" font-style="normal" fill="#111" transform="rotate(90 139.27 228.40)" stroke="#111" stroke-width="0.22">C2_R2</text>
<text x="147.52" y="228.40" font-size="6.7" text-anchor="start" font-family='"Liberation Sans", sans-serif' font-weight="normal" font-style="normal" fill="#111" transform="rotate(90 147.52 228.40)" stroke="#111" stroke-width="0.22">C2_R3</text>
<text x="155.77" y="228.40" font-size="6.7" text-anchor="start" font-family='"Liberation Sans", sans-serif' font-weight="normal" font-style="normal" fill="#111" transform="rotate(90 155.77 228.40)" stroke="#111" stroke-width="0.22">D1_R1</text>
<text x="164.02" y="228.40" font-size="6.7" text-anchor="start" font-family='"Liberation Sans", sans-serif' font-weight="normal" font-style="normal" fill="#111" transform="rotate(90 164.02 228.40)" stroke="#111" stroke-width="0.22">D1_R2</text>
<text x="172.27" y="228.40" font-size="6.7" text-anchor="start" font-family='"Liberation Sans", sans-serif' font-weight="normal" font-style="normal" fill="#111" transform="rotate(90 172.27 228.40)" stroke="#111" stroke-width="0.22">D1_R3</text>
<text x="180.52" y="228.40" font-size="6.7" text-anchor="start" font-family='"Liberation Sans", sans-serif' font-weight="normal" font-style="normal" fill="#111" transform="rotate(90 180.52 228.40)" stroke="#111" stroke-width="0.22">D2_R1</text>
<text x="188.77" y="228.40" font-size="6.7" text-anchor="start" font-family='"Liberation Sans", sans-serif' font-weight="normal" font-style="normal" fill="#111" transform="rotate(90 188.77 228.40)" stroke="#111" stroke-width="0.22">D2_R2</text>
<text x="197.02" y="228.40" font-size="6.7" text-anchor="start" font-family='"Liberation Sans", sans-serif' font-weight="normal" font-style="normal" fill="#111" transform="rotate(90 197.02 228.40)" stroke="#111" stroke-width="0.22">D2_R3</text>
<text x="205.27" y="228.40" font-size="6.7" text-anchor="start" font-family='"Liberation Sans", sans-serif' font-weight="normal" font-style="normal" fill="#111" transform="rotate(90 205.27 228.40)" stroke="#111" stroke-width="0.22">E1_R1</text>
<text x="213.52" y="228.40" font-size="6.7" text-anchor="start" font-family='"Liberation Sans", sans-serif' font-weight="normal" font-style="normal" fill="#111" transform="rotate(90 213.52 228.40)" stroke="#111" stroke-width="0.22">E1_R2</text>
<text x="221.77" y="228.40" font-size="6.7" text-anchor="start" font-family='"Liberation Sans", sans-serif' font-weight="normal" font-style="normal" fill="#111" transform="rotate(90 221.77 228.40)" stroke="#111" stroke-width="0.22">E1_R3</text>
<text x="230.02" y="228.40" font-size="6.7" text-anchor="start" font-family='"Liberation Sans", sans-serif' font-weight="normal" font-style="normal" fill="#111" transform="rotate(90 230.02 228.40)" stroke="#111" stroke-width="0.22">E2_R1</text>
<text x="238.27" y="228.40" font-size="6.7" text-anchor="start" font-family='"Liberation Sans", sans-serif' font-weight="normal" font-style="normal" fill="#111" transform="rotate(90 238.27 228.40)" stroke="#111" stroke-width="0.22">E2_R2</text>
<text x="246.52" y="228.40" font-size="6.7" text-anchor="start" font-family='"Liberation Sans", sans-serif' font-weight="normal" font-style="normal" fill="#111" transform="rotate(90 246.52 228.40)" stroke="#111" stroke-width="0.22">E2_R3</text>
<path d="M38.10 42.02H54.70M42.60 58.06H54.70M46.80 74.10H54.70M46.80 90.15H54.70M46.80 74.10V90.15M42.60 82.12H46.80M42.60 58.06V82.12M38.10 70.09H42.60M38.10 42.02V70.09M30.50 56.06H38.10M43.50 106.19H54.70M46.40 122.23H54.70M46.40 138.27H54.70M46.40 122.23V138.27M43.50 130.25H46.40M43.50 106.19V130.25M36.10 118.22H43.50M40.80 154.31H54.70M44.30 170.35H54.70M44.30 186.40H54.70M44.30 170.35V186.40M40.80 178.38H44.30M40.80 154.31V178.38M38.60 166.34H40.80M38.80 202.44H54.70M38.80 218.48H54.70M38.80 202.44V218.48M38.60 166.34V210.46M36.10 188.40H38.60M36.10 118.22V188.40M30.50 153.31H36.10M30.50 56.06V153.31" stroke="#3c3c3c" stroke-width="0.65" fill="none"/>
<defs><linearGradient id="hg" x1="0" y1="0" x2="0" y2="1"><stop offset="0" stop-color="#ff0000"/><stop offset="0.08" stop-color="#f00000"/><stop offset="0.5" stop-color="#0a0602"/><stop offset="1" stop-color="#04862a"/></linearGradient></defs>
<rect x="283.00" y="25.10" width="5.00" height="68.10" fill="url(#hg)" stroke="none" stroke-width="1"/>
<text x="289.60" y="35.13" font-size="6.5" text-anchor="start" font-family='"Liberation Sans", sans-serif' font-weight="normal" font-style="normal" fill="#111" stroke="#111" stroke-width="0.16">2</text>
<text x="289.60" y="48.53" font-size="6.5" text-anchor="start" font-family='"Liberation Sans", sans-serif' font-weight="normal" font-style="normal" fill="#111" stroke="#111" stroke-width="0.16">1</text>
<text x="289.60" y="61.73" font-size="6.5" text-anchor="start" font-family='"Liberation Sans", sans-serif' font-weight="normal" font-style="normal" fill="#111" stroke="#111" stroke-width="0.16">0</text>
<text x="289.60" y="75.33" font-size="6.5" text-anchor="start" font-family='"Liberation Sans", sans-serif' font-weight="normal" font-style="normal" fill="#111" stroke="#111" stroke-width="0.16">-1</text>
<text x="289.60" y="89.03" font-size="6.5" text-anchor="start" font-family='"Liberation Sans", sans-serif' font-weight="normal" font-style="normal" fill="#111" stroke="#111" stroke-width="0.16">-2</text>
<text x="302.80" y="30.20" font-size="6.8" text-anchor="start" font-family='"Liberation Sans", sans-serif' font-weight="bold" font-style="normal" fill="#000">Group</text>
<rect x="302.90" y="32.00" width="9.10" height="9.64" fill="#00BFFF" stroke="none" stroke-width="1"/>
<text x="314.70" y="39.25" font-size="6.8" text-anchor="start" font-family='"Liberation Sans", sans-serif' font-weight="normal" font-style="normal" fill="#111" stroke="#111" stroke-width="0.16">15~30 female</text>
<rect x="302.90" y="41.44" width="9.10" height="9.64" fill="#FB8E84" stroke="none" stroke-width="1"/>
<text x="314.70" y="48.69" font-size="6.8" text-anchor="start" font-family='"Liberation Sans", sans-serif' font-weight="normal" font-style="normal" fill="#111" stroke="#111" stroke-width="0.16">15~30 male</text>
<rect x="302.90" y="50.88" width="9.10" height="9.64" fill="#DD99FF" stroke="none" stroke-width="1"/>
<text x="314.70" y="58.13" font-size="6.8" text-anchor="start" font-family='"Liberation Sans", sans-serif' font-weight="normal" font-style="normal" fill="#111" stroke="#111" stroke-width="0.16">31~44 female</text>
<rect x="302.90" y="60.31" width="9.10" height="9.64" fill="#99CC00" stroke="none" stroke-width="1"/>
<text x="314.70" y="67.57" font-size="6.8" text-anchor="start" font-family='"Liberation Sans", sans-serif' font-weight="normal" font-style="normal" fill="#111" stroke="#111" stroke-width="0.16">31~44 male</text>
<rect x="302.90" y="69.75" width="9.10" height="9.64" fill="#FF80DF" stroke="none" stroke-width="1"/>
<text x="314.70" y="77.00" font-size="6.8" text-anchor="start" font-family='"Liberation Sans", sans-serif' font-weight="normal" font-style="normal" fill="#111" stroke="#111" stroke-width="0.16">45~59 female</text>
<rect x="302.90" y="79.19" width="9.10" height="9.64" fill="#00D9E6" stroke="none" stroke-width="1"/>
<text x="314.70" y="86.44" font-size="6.8" text-anchor="start" font-family='"Liberation Sans", sans-serif' font-weight="normal" font-style="normal" fill="#111" stroke="#111" stroke-width="0.16">45~59 male</text>
<rect x="302.90" y="88.62" width="9.10" height="9.64" fill="#E6AC00" stroke="none" stroke-width="1"/>
<text x="314.70" y="95.88" font-size="6.8" text-anchor="start" font-family='"Liberation Sans", sans-serif' font-weight="normal" font-style="normal" fill="#111" stroke="#111" stroke-width="0.16">60~79 female</text>
<rect x="302.90" y="98.06" width="9.10" height="9.64" fill="#00D98C" stroke="none" stroke-width="1"/>
<text x="314.70" y="105.32" font-size="6.8" text-anchor="start" font-family='"Liberation Sans", sans-serif' font-weight="normal" font-style="normal" fill="#111" stroke="#111" stroke-width="0.16">60~79 male</text>
</g>
<g id="panelB">
<text x="386.00" y="14.40" font-size="16.5" text-anchor="start" font-family='"Liberation Serif", serif' font-weight="bold" font-style="normal" fill="#000">B</text>
<rect x="482.40" y="16.40" width="170.20" height="73.00" fill="#fff" stroke="none" stroke-width="1"/>
<line x1="490.20" y1="16.40" x2="490.20" y2="89.40" stroke="#f0f0f0" stroke-width="0.4"/>
<line x1="534.26" y1="16.40" x2="534.26" y2="89.40" stroke="#f0f0f0" stroke-width="0.4"/>
<line x1="578.32" y1="16.40" x2="578.32" y2="89.40" stroke="#f0f0f0" stroke-width="0.4"/>
<line x1="622.38" y1="16.40" x2="622.38" y2="89.40" stroke="#f0f0f0" stroke-width="0.4"/>
<line x1="512.23" y1="16.40" x2="512.23" y2="89.40" stroke="#e2e2e2" stroke-width="0.6"/>
<line x1="556.29" y1="16.40" x2="556.29" y2="89.40" stroke="#e2e2e2" stroke-width="0.6"/>
<line x1="600.35" y1="16.40" x2="600.35" y2="89.40" stroke="#e2e2e2" stroke-width="0.6"/>
<line x1="644.41" y1="16.40" x2="644.41" y2="89.40" stroke="#e2e2e2" stroke-width="0.6"/>
<rect x="482.40" y="92.70" width="170.20" height="71.60" fill="#fff" stroke="none" stroke-width="1"/>
<line x1="490.20" y1="92.70" x2="490.20" y2="164.30" stroke="#f0f0f0" stroke-width="0.4"/>
<line x1="534.26" y1="92.70" x2="534.26" y2="164.30" stroke="#f0f0f0" stroke-width="0.4"/>
<line x1="578.32" y1="92.70" x2="578.32" y2="164.30" stroke="#f0f0f0" stroke-width="0.4"/>
<line x1="622.38" y1="92.70" x2="622.38" y2="164.30" stroke="#f0f0f0" stroke-width="0.4"/>
<line x1="512.23" y1="92.70" x2="512.23" y2="164.30" stroke="#e2e2e2" stroke-width="0.6"/>
<line x1="556.29" y1="92.70" x2="556.29" y2="164.30" stroke="#e2e2e2" stroke-width="0.6"/>
<line x1="600.35" y1="92.70" x2="600.35" y2="164.30" stroke="#e2e2e2" stroke-width="0.6"/>
<line x1="644.41" y1="92.70" x2="644.41" y2="164.30" stroke="#e2e2e2" stroke-width="0.6"/>
<rect x="482.40" y="167.00" width="170.20" height="73.10" fill="#fff" stroke="none" stroke-width="1"/>
<line x1="490.20" y1="167.00" x2="490.20" y2="240.10" stroke="#f0f0f0" stroke-width="0.4"/>
<line x1="534.26" y1="167.00" x2="534.26" y2="240.10" stroke="#f0f0f0" stroke-width="0.4"/>
<line x1="578.32" y1="167.00" x2="578.32" y2="240.10" stroke="#f0f0f0" stroke-width="0.4"/>
<line x1="622.38" y1="167.00" x2="622.38" y2="240.10" stroke="#f0f0f0" stroke-width="0.4"/>
<line x1="512.23" y1="167.00" x2="512.23" y2="240.10" stroke="#e2e2e2" stroke-width="0.6"/>
<line x1="556.29" y1="167.00" x2="556.29" y2="240.10" stroke="#e2e2e2" stroke-width="0.6"/>
<line x1="600.35" y1="167.00" x2="600.35" y2="240.10" stroke="#e2e2e2" stroke-width="0.6"/>
<line x1="644.41" y1="167.00" x2="644.41" y2="240.10" stroke="#e2e2e2" stroke-width="0.6"/>
<line x1="482.40" y1="21.50" x2="652.60" y2="21.50" stroke="#e6e6e6" stroke-width="0.5"/>
<line x1="482.40" y1="30.40" x2="652.60" y2="30.40" stroke="#e6e6e6" stroke-width="0.5"/>
<line x1="482.40" y1="39.40" x2="652.60" y2="39.40" stroke="#e6e6e6" stroke-width="0.5"/>
<line x1="482.40" y1="48.40" x2="652.60" y2="48.40" stroke="#e6e6e6" stroke-width="0.5"/>
<line x1="482.40" y1="57.40" x2="652.60" y2="57.40" stroke="#e6e6e6" stroke-width="0.5"/>
<line x1="482.40" y1="66.10" x2="652.60" y2="66.10" stroke="#e6e6e6" stroke-width="0.5"/>
<line x1="482.40" y1="75.00" x2="652.60" y2="75.00" stroke="#e6e6e6" stroke-width="0.5"/>
<line x1="482.40" y1="84.00" x2="652.60" y2="84.00" stroke="#e6e6e6" stroke-width="0.5"/>
<line x1="482.40" y1="97.10" x2="652.60" y2="97.10" stroke="#e6e6e6" stroke-width="0.5"/>
<line x1="482.40" y1="106.00" x2="652.60" y2="106.00" stroke="#e6e6e6" stroke-width="0.5"/>
<line x1="482.40" y1="114.90" x2="652.60" y2="114.90" stroke="#e6e6e6" stroke-width="0.5"/>
<line x1="482.40" y1="123.80" x2="652.60" y2="123.80" stroke="#e6e6e6" stroke-width="0.5"/>
<line x1="482.40" y1="132.90" x2="652.60" y2="132.90" stroke="#e6e6e6" stroke-width="0.5"/>
<line x1="482.40" y1="141.80" x2="652.60" y2="141.80" stroke="#e6e6e6" stroke-width="0.5"/>
<line x1="482.40" y1="150.90" x2="652.60" y2="150.90" stroke="#e6e6e6" stroke-width="0.5"/>
<line x1="482.40" y1="159.70" x2="652.60" y2="159.70" stroke="#e6e6e6" stroke-width="0.5"/>
<line x1="482.40" y1="172.60" x2="652.60" y2="172.60" stroke="#e6e6e6" stroke-width="0.5"/>
<line x1="482.40" y1="181.70" x2="652.60" y2="181.70" stroke="#e6e6e6" stroke-width="0.5"/>
<line x1="482.40" y1="190.60" x2="652.60" y2="190.60" stroke="#e6e6e6" stroke-width="0.5"/>
<line x1="482.40" y1="199.50" x2="652.60" y2="199.50" stroke="#e6e6e6" stroke-width="0.5"/>
<line x1="482.40" y1="208.60" x2="652.60" y2="208.60" stroke="#e6e6e6" stroke-width="0.5"/>
<line x1="482.40" y1="217.50" x2="652.60" y2="217.50" stroke="#e6e6e6" stroke-width="0.5"/>
<line x1="482.40" y1="226.30" x2="652.60" y2="226.30" stroke="#e6e6e6" stroke-width="0.5"/>
<line x1="482.40" y1="235.20" x2="652.60" y2="235.20" stroke="#e6e6e6" stroke-width="0.5"/>
<line x1="480.60" y1="21.50" x2="482.40" y2="21.50" stroke="#222" stroke-width="0.7"/>
<g transform="translate(480 0) scale(0.935 1) translate(-480 0)">
<text x="480.00" y="23.49" font-size="5.55" text-anchor="end" font-family='"Liberation Sans", sans-serif' font-weight="normal" font-style="normal" fill="#1a1a1a" stroke="#1a1a1a" stroke-width="0.14">leukocyte migration</text>
</g>
<line x1="480.60" y1="30.40" x2="482.40" y2="30.40" stroke="#222" stroke-width="0.7"/>
<g transform="translate(480 0) scale(0.935 1) translate(-480 0)">
<text x="480.00" y="32.39" font-size="5.55" text-anchor="end" font-family='"Liberation Sans", sans-serif' font-weight="normal" font-style="normal" fill="#1a1a1a" stroke="#1a1a1a" stroke-width="0.14">lymphocyte migration</text>
</g>
<line x1="480.60" y1="39.40" x2="482.40" y2="39.40" stroke="#222" stroke-width="0.7"/>
<g transform="translate(480 0) scale(0.935 1) translate(-480 0)">
<text x="480.00" y="41.39" font-size="5.55" text-anchor="end" font-family='"Liberation Sans", sans-serif' font-weight="normal" font-style="normal" fill="#1a1a1a" stroke="#1a1a1a" stroke-width="0.14">mononuclear cell migration</text>
</g>
<line x1="480.60" y1="48.40" x2="482.40" y2="48.40" stroke="#222" stroke-width="0.7"/>
<g transform="translate(480 0) scale(0.935 1) translate(-480 0)">
<text x="480.00" y="47.89" font-size="5.55" text-anchor="end" font-family='"Liberation Sans", sans-serif' font-weight="normal" font-style="normal" fill="#1a1a1a" stroke="#1a1a1a" stroke-width="0.14">regulation of leukocyte</text>
<text x="480.00" y="52.89" font-size="5.55" text-anchor="end" font-family='"Liberation Sans", sans-serif' font-weight="normal" font-style="normal" fill="#1a1a1a" stroke="#1a1a1a" stroke-width="0.14">migration</text>
</g>
<line x1="480.60" y1="57.40" x2="482.40" y2="57.40" stroke="#222" stroke-width="0.7"/>
<line x1="480.60" y1="66.10" x2="482.40" y2="66.10" stroke="#222" stroke-width="0.7"/>
<g transform="translate(480 0) scale(0.935 1) translate(-480 0)">
<text x="480.00" y="65.59" font-size="5.55" text-anchor="end" font-family='"Liberation Sans", sans-serif' font-weight="normal" font-style="normal" fill="#1a1a1a" stroke="#1a1a1a" stroke-width="0.14">regulation of mononuclear</text>
<text x="480.00" y="70.59" font-size="5.55" text-anchor="end" font-family='"Liberation Sans", sans-serif' font-weight="normal" font-style="normal" fill="#1a1a1a" stroke="#1a1a1a" stroke-width="0.14">cell migration</text>
</g>
<line x1="480.60" y1="75.00" x2="482.40" y2="75.00" stroke="#222" stroke-width="0.7"/>
<g transform="translate(480 0) scale(0.935 1) translate(-480 0)">
<text x="480.00" y="76.99" font-size="5.55" text-anchor="end" font-family='"Liberation Sans", sans-serif' font-weight="normal" font-style="normal" fill="#1a1a1a" stroke="#1a1a1a" stroke-width="0.14">heterotypic cell−cell adhesion</text>
</g>
<line x1="480.60" y1="84.00" x2="482.40" y2="84.00" stroke="#222" stroke-width="0.7"/>
<g transform="translate(480 0) scale(0.935 1) translate(-480 0)">
<text x="480.00" y="85.99" font-size="5.55" text-anchor="end" font-family='"Liberation Sans", sans-serif' font-weight="normal" font-style="normal" fill="#1a1a1a" stroke="#1a1a1a" stroke-width="0.14">T cell migration</text>
</g>
<line x1="480.60" y1="97.10" x2="482.40" y2="97.10" stroke="#222" stroke-width="0.7"/>
<g transform="translate(480 0) scale(0.935 1) translate(-480 0)">
<text x="480.00" y="99.09" font-size="5.55" text-anchor="end" font-family='"Liberation Sans", sans-serif' font-weight="normal" font-style="normal" fill="#1a1a1a" stroke="#1a1a1a" stroke-width="0.14">secretory granule membrane</text>
</g>
<line x1="480.60" y1="106.00" x2="482.40" y2="106.00" stroke="#222" stroke-width="0.7"/>
<g transform="translate(480 0) scale(0.935 1) translate(-480 0)">
<text x="480.00" y="107.99" font-size="5.55" text-anchor="end" font-family='"Liberation Sans", sans-serif' font-weight="normal" font-style="normal" fill="#1a1a1a" stroke="#1a1a1a" stroke-width="0.14">basolateral plasma membrane</text>
</g>
<line x1="480.60" y1="114.90" x2="482.40" y2="114.90" stroke="#222" stroke-width="0.7"/>
<g transform="translate(480 0) scale(0.935 1) translate(-480 0)">
<text x="480.00" y="116.89" font-size="5.55" text-anchor="end" font-family='"Liberation Sans", sans-serif' font-weight="normal" font-style="normal" fill="#1a1a1a" stroke="#1a1a1a" stroke-width="0.14">basal plasma membrane</text>
</g>
<line x1="480.60" y1="123.80" x2="482.40" y2="123.80" stroke="#222" stroke-width="0.7"/>
<g transform="translate(480 0) scale(0.935 1) translate(-480 0)">
<text x="480.00" y="125.79" font-size="5.55" text-anchor="end" font-family='"Liberation Sans", sans-serif' font-weight="normal" font-style="normal" fill="#1a1a1a" stroke="#1a1a1a" stroke-width="0.14">basal part of cell</text>
</g>
<line x1="480.60" y1="132.90" x2="482.40" y2="132.90" stroke="#222" stroke-width="0.7"/>
<g transform="translate(480 0) scale(0.935 1) translate(-480 0)">
<text x="480.00" y="134.89" font-size="5.55" text-anchor="end" font-family='"Liberation Sans", sans-serif' font-weight="normal" font-style="normal" fill="#1a1a1a" stroke="#1a1a1a" stroke-width="0.14">zymogen granule membrane</text>
</g>
<line x1="480.60" y1="141.80" x2="482.40" y2="141.80" stroke="#222" stroke-width="0.7"/>
<g transform="translate(480 0) scale(0.935 1) translate(-480 0)">
<text x="480.00" y="143.79" font-size="5.55" text-anchor="end" font-family='"Liberation Sans", sans-serif' font-weight="normal" font-style="normal" fill="#1a1a1a" stroke="#1a1a1a" stroke-width="0.14">uropod</text>
</g>
<line x1="480.60" y1="150.90" x2="482.40" y2="150.90" stroke="#222" stroke-width="0.7"/>
<g transform="translate(480 0) scale(0.935 1) translate(-480 0)">
<text x="480.00" y="152.89" font-size="5.55" text-anchor="end" font-family='"Liberation Sans", sans-serif' font-weight="normal" font-style="normal" fill="#1a1a1a" stroke="#1a1a1a" stroke-width="0.14">cell trailing edge</text>
</g>
<line x1="480.60" y1="159.70" x2="482.40" y2="159.70" stroke="#222" stroke-width="0.7"/>
<g transform="translate(480 0) scale(0.935 1) translate(-480 0)">
<text x="480.00" y="161.69" font-size="5.55" text-anchor="end" font-family='"Liberation Sans", sans-serif' font-weight="normal" font-style="normal" fill="#1a1a1a" stroke="#1a1a1a" stroke-width="0.14">zymogen granule</text>
</g>
<line x1="480.60" y1="172.60" x2="482.40" y2="172.60" stroke="#222" stroke-width="0.7"/>
<g transform="translate(480 0) scale(0.935 1) translate(-480 0)">
<text x="480.00" y="174.59" font-size="5.55" text-anchor="end" font-family='"Liberation Sans", sans-serif' font-weight="normal" font-style="normal" fill="#1a1a1a" stroke="#1a1a1a" stroke-width="0.14">phosphatase binding</text>
</g>
<line x1="480.60" y1="181.70" x2="482.40" y2="181.70" stroke="#222" stroke-width="0.7"/>
<g transform="translate(480 0) scale(0.935 1) translate(-480 0)">
<text x="480.00" y="181.19" font-size="5.55" text-anchor="end" font-family='"Liberation Sans", sans-serif' font-weight="normal" font-style="normal" fill="#1a1a1a" stroke="#1a1a1a" stroke-width="0.14">chloride channel inhibitor</text>
<text x="480.00" y="186.19" font-size="5.55" text-anchor="end" font-family='"Liberation Sans", sans-serif' font-weight="normal" font-style="normal" fill="#1a1a1a" stroke="#1a1a1a" stroke-width="0.14">activity</text>
</g>
<line x1="480.60" y1="190.60" x2="482.40" y2="190.60" stroke="#222" stroke-width="0.7"/>
<g transform="translate(480 0) scale(0.935 1) translate(-480 0)">
<text x="480.00" y="192.59" font-size="5.55" text-anchor="end" font-family='"Liberation Sans", sans-serif' font-weight="normal" font-style="normal" fill="#1a1a1a" stroke="#1a1a1a" stroke-width="0.14">T cell receptor binding</text>
</g>
<line x1="480.60" y1="199.50" x2="482.40" y2="199.50" stroke="#222" stroke-width="0.7"/>
<g transform="translate(480 0) scale(0.935 1) translate(-480 0)">
<text x="480.00" y="198.99" font-size="5.55" text-anchor="end" font-family='"Liberation Sans", sans-serif' font-weight="normal" font-style="normal" fill="#1a1a1a" stroke="#1a1a1a" stroke-width="0.14">phospholipase activator</text>
<text x="480.00" y="203.99" font-size="5.55" text-anchor="end" font-family='"Liberation Sans", sans-serif' font-weight="normal" font-style="normal" fill="#1a1a1a" stroke="#1a1a1a" stroke-width="0.14">activity</text>
</g>
<line x1="480.60" y1="208.60" x2="482.40" y2="208.60" stroke="#222" stroke-width="0.7"/>
<g transform="translate(480 0) scale(0.935 1) translate(-480 0)">
<text x="480.00" y="210.59" font-size="5.55" text-anchor="end" font-family='"Liberation Sans", sans-serif' font-weight="normal" font-style="normal" fill="#1a1a1a" stroke="#1a1a1a" stroke-width="0.14">Wnt receptor activity</text>
</g>
<line x1="480.60" y1="217.50" x2="482.40" y2="217.50" stroke="#222" stroke-width="0.7"/>
<g transform="translate(480 0) scale(0.935 1) translate(-480 0)">
<text x="480.00" y="216.99" font-size="5.55" text-anchor="end" font-family='"Liberation Sans", sans-serif' font-weight="normal" font-style="normal" fill="#1a1a1a" stroke="#1a1a1a" stroke-width="0.14">chloride channel regulator</text>
<text x="480.00" y="221.99" font-size="5.55" text-anchor="end" font-family='"Liberation Sans", sans-serif' font-weight="normal" font-style="normal" fill="#1a1a1a" stroke="#1a1a1a" stroke-width="0.14">activity</text>
</g>
<line x1="480.60" y1="226.30" x2="482.40" y2="226.30" stroke="#222" stroke-width="0.7"/>
<g transform="translate(480 0) scale(0.935 1) translate(-480 0)">
<text x="480.00" y="228.29" font-size="5.55" text-anchor="end" font-family='"Liberation Sans", sans-serif' font-weight="normal" font-style="normal" fill="#1a1a1a" stroke="#1a1a1a" stroke-width="0.14">lipase activator activity</text>
</g>
<line x1="480.60" y1="235.20" x2="482.40" y2="235.20" stroke="#222" stroke-width="0.7"/>
<g transform="translate(480 0) scale(0.935 1) translate(-480 0)">
<text x="480.00" y="234.69" font-size="5.55" text-anchor="end" font-family='"Liberation Sans", sans-serif' font-weight="normal" font-style="normal" fill="#1a1a1a" stroke="#1a1a1a" stroke-width="0.14">CXCR chemokine receptor</text>
<text x="480.00" y="239.69" font-size="5.55" text-anchor="end" font-family='"Liberation Sans", sans-serif' font-weight="normal" font-style="normal" fill="#1a1a1a" stroke="#1a1a1a" stroke-width="0.14">binding</text>
</g>
<rect x="418.2" y="51.6" width="64.4" height="11.3" rx="2" ry="2" fill="#fff" stroke="#e0181c" stroke-width="1.15"/>
<g transform="translate(480 0) scale(0.935 1) translate(-480 0)">
<text x="480.00" y="56.89" font-size="5.55" text-anchor="end" font-family='"Liberation Sans", sans-serif' font-weight="normal" font-style="normal" fill="#1a1a1a" stroke="#1a1a1a" stroke-width="0.14">regulation of lymphocyte</text>
<text x="480.00" y="61.89" font-size="5.55" text-anchor="end" font-family='"Liberation Sans", sans-serif' font-weight="normal" font-style="normal" fill="#1a1a1a" stroke="#1a1a1a" stroke-width="0.14">migration</text>
</g>
<circle cx="644.41" cy="21.50" r="3.80" fill="#f00808" stroke="none" stroke-width="1"/>
<circle cx="600.35" cy="30.40" r="3.20" fill="#f00808" stroke="none" stroke-width="1"/>
<circle cx="600.35" cy="39.40" r="3.20" fill="#f00808" stroke="none" stroke-width="1"/>
<circle cx="600.35" cy="48.40" r="3.20" fill="#f00808" stroke="none" stroke-width="1"/>
<circle cx="578.32" cy="57.40" r="3.05" fill="#f00808" stroke="none" stroke-width="1"/>
<circle cx="578.32" cy="66.10" r="3.05" fill="#f00808" stroke="none" stroke-width="1"/>
<circle cx="534.26" cy="75.00" r="2.65" fill="#f00808" stroke="none" stroke-width="1"/>
<circle cx="534.26" cy="84.00" r="2.65" fill="#f00808" stroke="none" stroke-width="1"/>
<circle cx="534.26" cy="97.10" r="2.95" fill="#e0144f" stroke="none" stroke-width="1"/>
<circle cx="512.23" cy="106.00" r="2.45" fill="#ae00b0" stroke="none" stroke-width="1"/>
<circle cx="512.23" cy="114.90" r="2.45" fill="#ae00b0" stroke="none" stroke-width="1"/>
<circle cx="512.23" cy="123.80" r="2.45" fill="#ae00b0" stroke="none" stroke-width="1"/>
<circle cx="490.20" cy="132.90" r="1.50" fill="#b000a8" stroke="none" stroke-width="1"/>
<circle cx="490.20" cy="141.80" r="1.50" fill="#b000a8" stroke="none" stroke-width="1"/>
<circle cx="490.20" cy="150.90" r="1.50" fill="#b000a8" stroke="none" stroke-width="1"/>
<circle cx="490.20" cy="159.70" r="1.50" fill="#b000a8" stroke="none" stroke-width="1"/>
<circle cx="512.23" cy="172.60" r="2.45" fill="#0808f8" stroke="none" stroke-width="1"/>
<circle cx="490.20" cy="181.70" r="1.50" fill="#0808f8" stroke="none" stroke-width="1"/>
<circle cx="490.20" cy="190.60" r="1.50" fill="#0808f8" stroke="none" stroke-width="1"/>
<circle cx="490.20" cy="199.50" r="1.50" fill="#0808f8" stroke="none" stroke-width="1"/>
<circle cx="490.20" cy="208.60" r="1.50" fill="#0808f8" stroke="none" stroke-width="1"/>
<circle cx="490.20" cy="217.50" r="1.50" fill="#0808f8" stroke="none" stroke-width="1"/>
<circle cx="490.20" cy="226.30" r="1.50" fill="#0808f8" stroke="none" stroke-width="1"/>
<circle cx="490.20" cy="235.20" r="1.50" fill="#0808f8" stroke="none" stroke-width="1"/>
<rect x="482.40" y="16.40" width="170.20" height="73.00" fill="none" stroke="#333" stroke-width="0.7"/>
<rect x="652.60" y="16.40" width="6.60" height="73.00" fill="#d9d9d9" stroke="#333" stroke-width="0.7"/>
<text x="654.20" y="52.90" font-size="4.0" text-anchor="middle" font-family='"Liberation Sans", sans-serif' font-weight="normal" font-style="normal" fill="#3a3a3a" transform="rotate(90 654.20 52.90)">BP</text>
<rect x="482.40" y="92.70" width="170.20" height="71.60" fill="none" stroke="#333" stroke-width="0.7"/>
<rect x="652.60" y="92.70" width="6.60" height="71.60" fill="#d9d9d9" stroke="#333" stroke-width="0.7"/>
<text x="654.20" y="128.50" font-size="4.0" text-anchor="middle" font-family='"Liberation Sans", sans-serif' font-weight="normal" font-style="normal" fill="#3a3a3a" transform="rotate(90 654.20 128.50)">CC</text>
<rect x="482.40" y="167.00" width="170.20" height="73.10" fill="none" stroke="#333" stroke-width="0.7"/>
<rect x="652.60" y="167.00" width="6.60" height="73.10" fill="#d9d9d9" stroke="#333" stroke-width="0.7"/>
<text x="654.20" y="203.55" font-size="4.0" text-anchor="middle" font-family='"Liberation Sans", sans-serif' font-weight="normal" font-style="normal" fill="#3a3a3a" transform="rotate(90 654.20 203.55)">MF</text>
<line x1="512.23" y1="240.10" x2="512.23" y2="242.20" stroke="#222" stroke-width="0.6"/>
<text x="512.23" y="246.86" font-size="5.2" text-anchor="middle" font-family='"Liberation Sans", sans-serif' font-weight="normal" font-style="normal" fill="#1a1a1a" stroke="#1a1a1a" stroke-width="0.14">0.2</text>
<line x1="556.29" y1="240.10" x2="556.29" y2="242.20" stroke="#222" stroke-width="0.6"/>
<text x="556.29" y="246.86" font-size="5.2" text-anchor="middle" font-family='"Liberation Sans", sans-serif' font-weight="normal" font-style="normal" fill="#1a1a1a" stroke="#1a1a1a" stroke-width="0.14">0.4</text>
<line x1="600.35" y1="240.10" x2="600.35" y2="242.20" stroke="#222" stroke-width="0.6"/>
<text x="600.35" y="246.86" font-size="5.2" text-anchor="middle" font-family='"Liberation Sans", sans-serif' font-weight="normal" font-style="normal" fill="#1a1a1a" stroke="#1a1a1a" stroke-width="0.14">0.6</text>
<line x1="644.41" y1="240.10" x2="644.41" y2="242.20" stroke="#222" stroke-width="0.6"/>
<text x="644.41" y="246.86" font-size="5.2" text-anchor="middle" font-family='"Liberation Sans", sans-serif' font-weight="normal" font-style="normal" fill="#1a1a1a" stroke="#1a1a1a" stroke-width="0.14">0.8</text>
<text x="567.50" y="252.46" font-size="5.2" text-anchor="middle" font-family='"Liberation Sans", sans-serif' font-weight="normal" font-style="normal" fill="#111" stroke="#1a1a1a" stroke-width="0.14">GeneRatio</text>
<text x="666.90" y="85.39" font-size="5.0" text-anchor="start" font-family='"Liberation Sans", sans-serif' font-weight="normal" font-style="normal" fill="#111">Count</text>
<circle cx="672.00" cy="91.30" r="2.25" fill="#000" stroke="none" stroke-width="1"/>
<text x="679.40" y="92.73" font-size="4.0" text-anchor="start" font-family='"Liberation Sans", sans-serif' font-weight="normal" font-style="normal" fill="#111" stroke="#1a1a1a" stroke-width="0.14">2</text>
<circle cx="672.00" cy="99.30" r="2.80" fill="#000" stroke="none" stroke-width="1"/>
<text x="679.40" y="100.73" font-size="4.0" text-anchor="start" font-family='"Liberation Sans", sans-serif' font-weight="normal" font-style="normal" fill="#111" stroke="#1a1a1a" stroke-width="0.14">4</text>
<circle cx="672.00" cy="107.50" r="3.40" fill="#000" stroke="none" stroke-width="1"/>
<text x="679.40" y="108.93" font-size="4.0" text-anchor="start" font-family='"Liberation Sans", sans-serif' font-weight="normal" font-style="normal" fill="#111" stroke="#1a1a1a" stroke-width="0.14">6</text>
<circle cx="672.00" cy="117.20" r="4.10" fill="#000" stroke="none" stroke-width="1"/>
<text x="679.40" y="118.63" font-size="4.0" text-anchor="start" font-family='"Liberation Sans", sans-serif' font-weight="normal" font-style="normal" fill="#111" stroke="#1a1a1a" stroke-width="0.14">8</text>
<text x="666.90" y="135.92" font-size="4.8" text-anchor="start" font-family='"Liberation Sans", sans-serif' font-weight="normal" font-style="normal" fill="#111">p.adjust</text>
<defs><linearGradient id="pg" x1="0" y1="0" x2="0" y2="1"><stop offset="0" stop-color="#2a14ff"/><stop offset="0.5" stop-color="#a800b4"/><stop offset="1" stop-color="#ff0a14"/></linearGradient></defs>
<rect x="667.00" y="138.20" width="7.40" height="37.40" fill="url(#pg)" stroke="none" stroke-width="1"/>
<line x1="667.00" y1="144.30" x2="668.40" y2="144.30" stroke="#fff" stroke-width="0.4"/>
<line x1="673.00" y1="144.30" x2="674.40" y2="144.30" stroke="#fff" stroke-width="0.4"/>
<text x="676.80" y="145.62" font-size="3.7" text-anchor="start" font-family='"Liberation Sans", sans-serif' font-weight="normal" font-style="normal" fill="#111" stroke="#1a1a1a" stroke-width="0.14">0.06</text>
<line x1="667.00" y1="155.10" x2="668.40" y2="155.10" stroke="#fff" stroke-width="0.4"/>
<line x1="673.00" y1="155.10" x2="674.40" y2="155.10" stroke="#fff" stroke-width="0.4"/>
<text x="676.80" y="156.42" font-size="3.7" text-anchor="start" font-family='"Liberation Sans", sans-serif' font-weight="normal" font-style="normal" fill="#111" stroke="#1a1a1a" stroke-width="0.14">0.04</text>
<line x1="667.00" y1="165.30" x2="668.40" y2="165.30" stroke="#fff" stroke-width="0.4"/>
<line x1="673.00" y1="165.30" x2="674.40" y2="165.30" stroke="#fff" stroke-width="0.4"/>
<text x="676.80" y="166.62" font-size="3.7" text-anchor="start" font-family='"Liberation Sans", sans-serif' font-weight="normal" font-style="normal" fill="#111" stroke="#1a1a1a" stroke-width="0.14">0.02</text>
</g>
<g id="panelC">
<text x="1.70" y="290.00" font-size="16.6" text-anchor="start" font-family='"Liberation Serif", serif' font-weight="bold" font-style="normal" fill="#000">C</text>
<line x1="58.30" y1="326.80" x2="58.30" y2="403.00" stroke="#111" stroke-width="1.05"/>
<line x1="57.77" y1="403.00" x2="164.20" y2="403.00" stroke="#111" stroke-width="1.05"/>
<line x1="55.70" y1="326.80" x2="58.30" y2="326.80" stroke="#111" stroke-width="1.05"/>
<text x="54.70" y="328.71" font-size="5.8" text-anchor="end" font-family='"Liberation Serif", serif' font-weight="bold" font-style="normal" fill="#111" stroke="#111" stroke-width="0.26">40000</text>
<line x1="55.70" y1="345.70" x2="58.30" y2="345.70" stroke="#111" stroke-width="1.05"/>
<text x="54.70" y="347.61" font-size="5.8" text-anchor="end" font-family='"Liberation Serif", serif' font-weight="bold" font-style="normal" fill="#111" stroke="#111" stroke-width="0.26">30000</text>
<line x1="55.70" y1="364.60" x2="58.30" y2="364.60" stroke="#111" stroke-width="1.05"/>
<text x="54.70" y="366.51" font-size="5.8" text-anchor="end" font-family='"Liberation Serif", serif' font-weight="bold" font-style="normal" fill="#111" stroke="#111" stroke-width="0.26">20000</text>
<line x1="55.70" y1="383.50" x2="58.30" y2="383.50" stroke="#111" stroke-width="1.05"/>
<text x="54.70" y="385.41" font-size="5.8" text-anchor="end" font-family='"Liberation Serif", serif' font-weight="bold" font-style="normal" fill="#111" stroke="#111" stroke-width="0.26">10000</text>
<line x1="55.70" y1="403.00" x2="58.30" y2="403.00" stroke="#111" stroke-width="1.05"/>
<text x="54.70" y="404.91" font-size="5.8" text-anchor="end" font-family='"Liberation Serif", serif' font-weight="bold" font-style="normal" fill="#111" stroke="#111" stroke-width="0.26">0</text>
<line x1="74.90" y1="403.00" x2="74.90" y2="405.40" stroke="#111" stroke-width="1.05"/>
<text x="74.90" y="412.08" font-size="5.4" text-anchor="middle" font-family='"Liberation Serif", serif' font-weight="bold" font-style="italic" fill="#111" stroke="#111" stroke-width="0.24">15-30</text>
<line x1="99.30" y1="403.00" x2="99.30" y2="405.40" stroke="#111" stroke-width="1.05"/>
<text x="99.30" y="412.08" font-size="5.4" text-anchor="middle" font-family='"Liberation Serif", serif' font-weight="bold" font-style="italic" fill="#111" stroke="#111" stroke-width="0.24">31-44</text>
<line x1="123.20" y1="403.00" x2="123.20" y2="405.40" stroke="#111" stroke-width="1.05"/>
<text x="123.20" y="412.08" font-size="5.4" text-anchor="middle" font-family='"Liberation Serif", serif' font-weight="bold" font-style="italic" fill="#111" stroke="#111" stroke-width="0.24">45-59</text>
<line x1="147.90" y1="403.00" x2="147.90" y2="405.40" stroke="#111" stroke-width="1.05"/>
<text x="147.90" y="412.08" font-size="5.4" text-anchor="middle" font-family='"Liberation Serif", serif' font-weight="bold" font-style="italic" fill="#111" stroke="#111" stroke-width="0.24">60-79</text>
<text x="37.30" y="364.90" font-size="5.7" text-anchor="middle" font-family='"Liberation Serif", serif' font-weight="normal" font-style="italic" fill="#4a4a4a" transform="rotate(-90 37.30 364.90)">Abundance</text>
<text x="111.40" y="300.46" font-size="7.2" text-anchor="middle" font-family='"Liberation Serif", serif' font-weight="bold" font-style="normal" fill="#111" textLength="19.0" lengthAdjust="spacingAndGlyphs" stroke="#111" stroke-width="0.25">WASL</text>
<text x="44.50" y="296.20" font-size="13" text-anchor="start" font-family='"Liberation Serif", serif' font-weight="normal" font-style="normal" fill="#222" dx="0 0.3 0.5" dy="0 0.5 -0.5">(a)</text>
<line x1="74.90" y1="337.60" x2="74.90" y2="340.60" stroke="#333" stroke-width="0.8"/>
<line x1="73.20" y1="337.60" x2="76.60" y2="337.60" stroke="#333" stroke-width="0.8"/>
<line x1="73.20" y1="340.60" x2="76.60" y2="340.60" stroke="#333" stroke-width="0.8"/>
<line x1="99.30" y1="345.60" x2="99.30" y2="347.80" stroke="#333" stroke-width="0.8"/>
<line x1="97.60" y1="345.60" x2="101.00" y2="345.60" stroke="#333" stroke-width="0.8"/>
<line x1="97.60" y1="347.80" x2="101.00" y2="347.80" stroke="#333" stroke-width="0.8"/>
<line x1="123.20" y1="344.80" x2="123.20" y2="347.60" stroke="#333" stroke-width="0.8"/>
<line x1="121.50" y1="344.80" x2="124.90" y2="344.80" stroke="#333" stroke-width="0.8"/>
<line x1="121.50" y1="347.60" x2="124.90" y2="347.60" stroke="#333" stroke-width="0.8"/>
<line x1="147.90" y1="358.30" x2="147.90" y2="370.40" stroke="#333" stroke-width="0.8"/>
<line x1="146.20" y1="358.30" x2="149.60" y2="358.30" stroke="#333" stroke-width="0.8"/>
<line x1="146.20" y1="370.40" x2="149.60" y2="370.40" stroke="#333" stroke-width="0.8"/>
<polyline points="74.90,339.10 99.30,346.70 123.20,346.20 147.90,364.30" fill="none" stroke="#111" stroke-width="1.0"/>
<circle cx="74.90" cy="339.10" r="1.60" fill="#000" stroke="none" stroke-width="1"/>
<circle cx="99.30" cy="346.70" r="1.60" fill="#000" stroke="none" stroke-width="1"/>
<circle cx="123.20" cy="346.20" r="1.60" fill="#000" stroke="none" stroke-width="1"/>
<circle cx="147.90" cy="364.30" r="1.60" fill="#000" stroke="none" stroke-width="1"/>
<path d="M72.20 316.20V311.80H148.00V316.20" stroke="#111" stroke-width="1.05" fill="none" stroke-linejoin="miter"/>
<text x="111.00" y="311.36" font-size="11" text-anchor="middle" font-family='"Liberation Sans", sans-serif' font-weight="bold" font-style="normal" fill="#111" stroke="#111" stroke-width="0.3" stroke-linejoin="round">***</text>
<path d="M72.20 324.70V320.80H122.40V324.70" stroke="#111" stroke-width="1.05" fill="none" stroke-linejoin="miter"/>
<text x="97.60" y="321.16" font-size="11" text-anchor="middle" font-family='"Liberation Sans", sans-serif' font-weight="bold" font-style="normal" fill="#111" stroke="#111" stroke-width="0.3" stroke-linejoin="round">***</text>
<path d="M72.20 332.80V329.20H98.50V332.80" stroke="#111" stroke-width="1.05" fill="none" stroke-linejoin="miter"/>
<text x="85.70" y="329.66" font-size="11" text-anchor="middle" font-family='"Liberation Sans", sans-serif' font-weight="bold" font-style="normal" fill="#111" stroke="#111" stroke-width="0.3" stroke-linejoin="round">***</text>
<path d="M122.40 338.80V334.80H149.10V338.80" stroke="#111" stroke-width="1.05" fill="none" stroke-linejoin="miter"/>
<text x="135.60" y="335.36" font-size="11" text-anchor="middle" font-family='"Liberation Sans", sans-serif' font-weight="bold" font-style="normal" fill="#111" stroke="#111" stroke-width="0.3" stroke-linejoin="round">***</text>
<line x1="219.90" y1="327.00" x2="219.90" y2="405.30" stroke="#111" stroke-width="1.05"/>
<line x1="219.38" y1="405.30" x2="327.60" y2="405.30" stroke="#111" stroke-width="1.05"/>
<line x1="217.30" y1="327.00" x2="219.90" y2="327.00" stroke="#111" stroke-width="1.05"/>
<text x="216.30" y="328.98" font-size="6.0" text-anchor="end" font-family='"Liberation Serif", serif' font-weight="bold" font-style="normal" fill="#111" stroke="#111" stroke-width="0.26">15000</text>
<line x1="217.30" y1="353.30" x2="219.90" y2="353.30" stroke="#111" stroke-width="1.05"/>
<text x="216.30" y="355.28" font-size="6.0" text-anchor="end" font-family='"Liberation Serif", serif' font-weight="bold" font-style="normal" fill="#111" stroke="#111" stroke-width="0.26">10000</text>
<line x1="217.30" y1="379.30" x2="219.90" y2="379.30" stroke="#111" stroke-width="1.05"/>
<text x="216.30" y="381.28" font-size="6.0" text-anchor="end" font-family='"Liberation Serif", serif' font-weight="bold" font-style="normal" fill="#111" stroke="#111" stroke-width="0.26">5000</text>
<line x1="217.30" y1="405.30" x2="219.90" y2="405.30" stroke="#111" stroke-width="1.05"/>
<text x="216.30" y="407.28" font-size="6.0" text-anchor="end" font-family='"Liberation Serif", serif' font-weight="bold" font-style="normal" fill="#111" stroke="#111" stroke-width="0.26">0</text>
<line x1="236.50" y1="405.30" x2="236.50" y2="407.70" stroke="#111" stroke-width="1.05"/>
<text x="236.50" y="413.98" font-size="5.4" text-anchor="middle" font-family='"Liberation Serif", serif' font-weight="bold" font-style="italic" fill="#111" stroke="#111" stroke-width="0.24">15-30</text>
<line x1="261.40" y1="405.30" x2="261.40" y2="407.70" stroke="#111" stroke-width="1.05"/>
<text x="261.40" y="413.98" font-size="5.4" text-anchor="middle" font-family='"Liberation Serif", serif' font-weight="bold" font-style="italic" fill="#111" stroke="#111" stroke-width="0.24">31-44</text>
<line x1="286.40" y1="405.30" x2="286.40" y2="407.70" stroke="#111" stroke-width="1.05"/>
<text x="286.40" y="413.98" font-size="5.4" text-anchor="middle" font-family='"Liberation Serif", serif' font-weight="bold" font-style="italic" fill="#111" stroke="#111" stroke-width="0.24">45-59</text>
<line x1="311.40" y1="405.30" x2="311.40" y2="407.70" stroke="#111" stroke-width="1.05"/>
<text x="311.40" y="413.98" font-size="5.4" text-anchor="middle" font-family='"Liberation Serif", serif' font-weight="bold" font-style="italic" fill="#111" stroke="#111" stroke-width="0.24">60-79</text>
<text x="198.60" y="366.00" font-size="5.9" text-anchor="middle" font-family='"Liberation Serif", serif' font-weight="normal" font-style="normal" fill="#1a1a1a" transform="rotate(-90 198.60 366.00)" stroke="#222" stroke-width="0.18">Abundance</text>
<text x="273.80" y="300.65" font-size="7.8" text-anchor="middle" font-family='"Liberation Serif", serif' font-weight="bold" font-style="normal" fill="#111" textLength="22.7" lengthAdjust="spacingAndGlyphs" stroke="#111" stroke-width="0.25">STK10</text>
<text x="186.40" y="298.10" font-size="13" text-anchor="start" font-family='"Liberation Serif", serif' font-weight="normal" font-style="normal" fill="#222" dx="0 0.3 0.5" dy="0 0.5 -0.5">(b)</text>
<line x1="236.50" y1="347.30" x2="236.50" y2="359.10" stroke="#444" stroke-width="0.75"/>
<line x1="234.80" y1="347.30" x2="238.20" y2="347.30" stroke="#444" stroke-width="0.75"/>
<line x1="234.80" y1="359.10" x2="238.20" y2="359.10" stroke="#444" stroke-width="0.75"/>
<line x1="261.40" y1="334.10" x2="261.40" y2="374.80" stroke="#444" stroke-width="0.75"/>
<line x1="259.70" y1="334.10" x2="263.10" y2="334.10" stroke="#444" stroke-width="0.75"/>
<line x1="259.70" y1="374.80" x2="263.10" y2="374.80" stroke="#444" stroke-width="0.75"/>
<line x1="286.40" y1="352.00" x2="286.40" y2="366.40" stroke="#444" stroke-width="0.75"/>
<line x1="284.70" y1="352.00" x2="288.10" y2="352.00" stroke="#444" stroke-width="0.75"/>
<line x1="284.70" y1="366.40" x2="288.10" y2="366.40" stroke="#444" stroke-width="0.75"/>
<line x1="311.40" y1="356.50" x2="311.40" y2="373.30" stroke="#444" stroke-width="0.75"/>
<line x1="309.70" y1="356.50" x2="313.10" y2="356.50" stroke="#444" stroke-width="0.75"/>
<line x1="309.70" y1="373.30" x2="313.10" y2="373.30" stroke="#444" stroke-width="0.75"/>
<polyline points="236.50,353.00 261.40,354.60 286.40,359.10 311.40,364.90" fill="none" stroke="#111" stroke-width="1.0"/>
<circle cx="236.50" cy="353.00" r="1.60" fill="#000" stroke="none" stroke-width="1"/>
<circle cx="261.40" cy="354.60" r="1.60" fill="#000" stroke="none" stroke-width="1"/>
<circle cx="286.40" cy="359.10" r="1.60" fill="#000" stroke="none" stroke-width="1"/>
<circle cx="311.40" cy="364.90" r="1.60" fill="#000" stroke="none" stroke-width="1"/>
<path d="M233.70 316.90V312.90H311.90V316.90" stroke="#111" stroke-width="1.05" fill="none" stroke-linejoin="miter"/>
<text x="272.80" y="312.06" font-size="11" text-anchor="middle" font-family='"Liberation Sans", sans-serif' font-weight="bold" font-style="normal" fill="#111" stroke="#111" stroke-width="0.3" stroke-linejoin="round">*</text>
<path d="M233.70 327.30V321.90H285.00V327.30" stroke="#111" stroke-width="1.05" fill="none" stroke-linejoin="miter"/>
<text x="259.30" y="318.27" font-size="7.3" text-anchor="middle" font-family='"Liberation Sans", sans-serif' font-weight="normal" font-style="normal" fill="#2a2a2a" stroke="#2a2a2a" stroke-width="0.12">ns</text>
<path d="M261.30 336.30V332.90H285.60V336.30" stroke="#111" stroke-width="1.05" fill="none" stroke-linejoin="miter"/>
<text x="273.30" y="328.97" font-size="7.3" text-anchor="middle" font-family='"Liberation Sans", sans-serif' font-weight="normal" font-style="normal" fill="#2a2a2a" stroke="#2a2a2a" stroke-width="0.12">ns</text>
<path d="M285.60 347.60V344.10H311.70V347.60" stroke="#111" stroke-width="1.05" fill="none" stroke-linejoin="miter"/>
<text x="298.70" y="339.87" font-size="7.3" text-anchor="middle" font-family='"Liberation Sans", sans-serif' font-weight="normal" font-style="normal" fill="#2a2a2a" stroke="#2a2a2a" stroke-width="0.12">ns</text>
<line x1="361.30" y1="315.20" x2="361.30" y2="406.50" stroke="#111" stroke-width="1.0"/>
<line x1="360.80" y1="406.50" x2="487.50" y2="406.50" stroke="#111" stroke-width="1.0"/>
<line x1="358.70" y1="315.20" x2="361.30" y2="315.20" stroke="#111" stroke-width="1.0"/>
<text x="357.70" y="317.34" font-size="6.5" text-anchor="end" font-family='"Liberation Serif", serif' font-weight="bold" font-style="normal" fill="#111" stroke="#111" stroke-width="0.26">100000</text>
<line x1="358.70" y1="333.50" x2="361.30" y2="333.50" stroke="#111" stroke-width="1.0"/>
<text x="357.70" y="335.64" font-size="6.5" text-anchor="end" font-family='"Liberation Serif", serif' font-weight="bold" font-style="normal" fill="#111" stroke="#111" stroke-width="0.26">80000</text>
<line x1="358.70" y1="351.90" x2="361.30" y2="351.90" stroke="#111" stroke-width="1.0"/>
<text x="357.70" y="354.04" font-size="6.5" text-anchor="end" font-family='"Liberation Serif", serif' font-weight="bold" font-style="normal" fill="#111" stroke="#111" stroke-width="0.26">60000</text>
<line x1="358.70" y1="370.20" x2="361.30" y2="370.20" stroke="#111" stroke-width="1.0"/>
<text x="357.70" y="372.34" font-size="6.5" text-anchor="end" font-family='"Liberation Serif", serif' font-weight="bold" font-style="normal" fill="#111" stroke="#111" stroke-width="0.26">40000</text>
<line x1="358.70" y1="388.50" x2="361.30" y2="388.50" stroke="#111" stroke-width="1.0"/>
<text x="357.70" y="390.64" font-size="6.5" text-anchor="end" font-family='"Liberation Serif", serif' font-weight="bold" font-style="normal" fill="#111" stroke="#111" stroke-width="0.26">20000</text>
<line x1="358.70" y1="406.50" x2="361.30" y2="406.50" stroke="#111" stroke-width="1.0"/>
<text x="357.70" y="408.64" font-size="6.5" text-anchor="end" font-family='"Liberation Serif", serif' font-weight="bold" font-style="normal" fill="#111" stroke="#111" stroke-width="0.26">0</text>
<line x1="382.10" y1="406.50" x2="382.10" y2="408.90" stroke="#111" stroke-width="1.0"/>
<text x="382.10" y="416.55" font-size="6.2" text-anchor="middle" font-family='"Liberation Serif", serif' font-weight="bold" font-style="italic" fill="#111" stroke="#111" stroke-width="0.24">15-30</text>
<line x1="411.20" y1="406.50" x2="411.20" y2="408.90" stroke="#111" stroke-width="1.0"/>
<text x="411.20" y="416.55" font-size="6.2" text-anchor="middle" font-family='"Liberation Serif", serif' font-weight="bold" font-style="italic" fill="#111" stroke="#111" stroke-width="0.24">31-44</text>
<line x1="439.80" y1="406.50" x2="439.80" y2="408.90" stroke="#111" stroke-width="1.0"/>
<text x="439.80" y="416.55" font-size="6.2" text-anchor="middle" font-family='"Liberation Serif", serif' font-weight="bold" font-style="italic" fill="#111" stroke="#111" stroke-width="0.24">45-59</text>
<line x1="468.70" y1="406.50" x2="468.70" y2="408.90" stroke="#111" stroke-width="1.0"/>
<text x="468.70" y="416.55" font-size="6.2" text-anchor="middle" font-family='"Liberation Serif", serif' font-weight="bold" font-style="italic" fill="#111" stroke="#111" stroke-width="0.24">60-79</text>
<text x="337.20" y="361.30" font-size="6.6" text-anchor="middle" font-family='"Liberation Serif", serif' font-weight="normal" font-style="normal" fill="#1a1a1a" transform="rotate(-90 337.20 361.30)" stroke="#222" stroke-width="0.18">Abundance</text>
<text x="425.50" y="304.38" font-size="8.8" text-anchor="middle" font-family='"Liberation Serif", serif' font-weight="bold" font-style="normal" fill="#111" textLength="25.1" lengthAdjust="spacingAndGlyphs" stroke="#111" stroke-width="0.25">WNK1</text>
<text x="314.50" y="298.70" font-size="13.5" text-anchor="start" font-family='"Liberation Serif", serif' font-weight="normal" font-style="normal" fill="#222" dx="0 0.3 0.5" dy="0 0.5 -0.5">(c)</text>
<line x1="382.10" y1="392.30" x2="382.10" y2="401.50" stroke="#6e6e6e" stroke-width="0.85"/>
<line x1="380.40" y1="392.30" x2="383.80" y2="392.30" stroke="#6e6e6e" stroke-width="0.85"/>
<line x1="380.40" y1="401.50" x2="383.80" y2="401.50" stroke="#6e6e6e" stroke-width="0.85"/>
<line x1="411.20" y1="388.70" x2="411.20" y2="399.60" stroke="#6e6e6e" stroke-width="0.85"/>
<line x1="409.50" y1="388.70" x2="412.90" y2="388.70" stroke="#6e6e6e" stroke-width="0.85"/>
<line x1="409.50" y1="399.60" x2="412.90" y2="399.60" stroke="#6e6e6e" stroke-width="0.85"/>
<line x1="439.80" y1="378.20" x2="439.80" y2="390.40" stroke="#6e6e6e" stroke-width="0.85"/>
<line x1="438.10" y1="378.20" x2="441.50" y2="378.20" stroke="#6e6e6e" stroke-width="0.85"/>
<line x1="438.10" y1="390.40" x2="441.50" y2="390.40" stroke="#6e6e6e" stroke-width="0.85"/>
<line x1="468.70" y1="323.80" x2="468.70" y2="384.30" stroke="#6e6e6e" stroke-width="0.85"/>
<line x1="467.00" y1="323.80" x2="470.40" y2="323.80" stroke="#6e6e6e" stroke-width="0.85"/>
<line x1="467.00" y1="384.30" x2="470.40" y2="384.30" stroke="#6e6e6e" stroke-width="0.85"/>
<polyline points="382.10,397.10 411.20,394.30 439.80,383.80 468.70,354.30" fill="none" stroke="#111" stroke-width="1.1"/>
<circle cx="382.10" cy="397.10" r="1.60" fill="#000" stroke="none" stroke-width="1"/>
<circle cx="411.20" cy="394.30" r="1.60" fill="#000" stroke="none" stroke-width="1"/>
<circle cx="439.80" cy="383.80" r="1.60" fill="#000" stroke="none" stroke-width="1"/>
<circle cx="468.70" cy="354.30" r="1.60" fill="#000" stroke="none" stroke-width="1"/>
<path d="M380.70 324.20V319.70H469.30V324.20" stroke="#111" stroke-width="1.35" fill="none" stroke-linejoin="miter"/>
<text x="425.30" y="319.46" font-size="13" text-anchor="middle" font-family='"Liberation Sans", sans-serif' font-weight="bold" font-style="normal" fill="#111" stroke="#111" stroke-width="0.3" stroke-linejoin="round">*</text>
<path d="M380.70 335.70V330.20H442.50V335.70" stroke="#111" stroke-width="1.35" fill="none" stroke-linejoin="miter"/>
<text x="411.90" y="330.17" font-size="13" text-anchor="middle" font-family='"Liberation Sans", sans-serif' font-weight="bold" font-style="normal" fill="#111" stroke="#111" stroke-width="0.3" stroke-linejoin="round">*</text>
<path d="M380.70 352.30V347.30H413.80V352.30" stroke="#111" stroke-width="1.35" fill="none" stroke-linejoin="miter"/>
<text x="397.30" y="343.42" font-size="7.3" text-anchor="middle" font-family='"Liberation Serif", serif' font-weight="normal" font-style="normal" fill="#666" stroke="#666" stroke-width="0.22">ns</text>
<path d="M415.70 352.30V347.30H469.30V352.30" stroke="#111" stroke-width="1.35" fill="none" stroke-linejoin="miter"/>
<text x="442.20" y="347.87" font-size="13" text-anchor="middle" font-family='"Liberation Sans", sans-serif' font-weight="bold" font-style="normal" fill="#111" stroke="#111" stroke-width="0.3" stroke-linejoin="round">*</text>
<path d="M413.80 370.40V365.70H439.80V370.40" stroke="#111" stroke-width="1.35" fill="none" stroke-linejoin="miter"/>
<text x="426.40" y="366.76" font-size="13" text-anchor="middle" font-family='"Liberation Sans", sans-serif' font-weight="bold" font-style="normal" fill="#111" stroke="#111" stroke-width="0.3" stroke-linejoin="round">*</text>
<line x1="114.90" y1="454.10" x2="114.90" y2="539.30" stroke="#111" stroke-width="1.0"/>
<line x1="114.40" y1="539.30" x2="236.40" y2="539.30" stroke="#111" stroke-width="1.0"/>
<line x1="112.30" y1="454.10" x2="114.90" y2="454.10" stroke="#111" stroke-width="1.0"/>
<text x="111.30" y="456.01" font-size="5.8" text-anchor="end" font-family='"Liberation Serif", serif' font-weight="bold" font-style="normal" fill="#111" stroke="#111" stroke-width="0.26">2000</text>
<line x1="112.30" y1="475.50" x2="114.90" y2="475.50" stroke="#111" stroke-width="1.0"/>
<text x="111.30" y="477.41" font-size="5.8" text-anchor="end" font-family='"Liberation Serif", serif' font-weight="bold" font-style="normal" fill="#111" stroke="#111" stroke-width="0.26">1500</text>
<line x1="112.30" y1="496.80" x2="114.90" y2="496.80" stroke="#111" stroke-width="1.0"/>
<text x="111.30" y="498.71" font-size="5.8" text-anchor="end" font-family='"Liberation Serif", serif' font-weight="bold" font-style="normal" fill="#111" stroke="#111" stroke-width="0.26">1000</text>
<line x1="112.30" y1="518.20" x2="114.90" y2="518.20" stroke="#111" stroke-width="1.0"/>
<text x="111.30" y="520.11" font-size="5.8" text-anchor="end" font-family='"Liberation Serif", serif' font-weight="bold" font-style="normal" fill="#111" stroke="#111" stroke-width="0.26">500</text>
<line x1="112.30" y1="539.30" x2="114.90" y2="539.30" stroke="#111" stroke-width="1.0"/>
<text x="111.30" y="541.21" font-size="5.8" text-anchor="end" font-family='"Liberation Serif", serif' font-weight="bold" font-style="normal" fill="#111" stroke="#111" stroke-width="0.26">0</text>
<line x1="136.50" y1="539.30" x2="136.50" y2="541.70" stroke="#111" stroke-width="1.0"/>
<text x="136.50" y="548.82" font-size="5.5" text-anchor="middle" font-family='"Liberation Serif", serif' font-weight="bold" font-style="italic" fill="#111" stroke="#111" stroke-width="0.24">15-30</text>
<line x1="163.70" y1="539.30" x2="163.70" y2="541.70" stroke="#111" stroke-width="1.0"/>
<text x="163.70" y="548.82" font-size="5.5" text-anchor="middle" font-family='"Liberation Serif", serif' font-weight="bold" font-style="italic" fill="#111" stroke="#111" stroke-width="0.24">31-44</text>
<line x1="190.90" y1="539.30" x2="190.90" y2="541.70" stroke="#111" stroke-width="1.0"/>
<text x="190.90" y="548.82" font-size="5.5" text-anchor="middle" font-family='"Liberation Serif", serif' font-weight="bold" font-style="italic" fill="#111" stroke="#111" stroke-width="0.24">45-59</text>
<line x1="218.10" y1="539.30" x2="218.10" y2="541.70" stroke="#111" stroke-width="1.0"/>
<text x="218.10" y="548.82" font-size="5.5" text-anchor="middle" font-family='"Liberation Serif", serif' font-weight="bold" font-style="italic" fill="#111" stroke="#111" stroke-width="0.24">60-79</text>
<text x="97.80" y="497.10" font-size="6.2" text-anchor="middle" font-family='"Liberation Serif", serif' font-weight="normal" font-style="normal" fill="#1a1a1a" transform="rotate(-90 97.80 497.10)" stroke="#222" stroke-width="0.18">Abundance</text>
<text x="177.30" y="439.68" font-size="8.5" text-anchor="middle" font-family='"Liberation Serif", serif' font-weight="bold" font-style="normal" fill="#111" textLength="24.4" lengthAdjust="spacingAndGlyphs" stroke="#111" stroke-width="0.25">SPNS2</text>
<text x="67.30" y="445.40" font-size="13" text-anchor="start" font-family='"Liberation Serif", serif' font-weight="normal" font-style="normal" fill="#222" dx="0 0.3 0.5" dy="0 0.5 -0.5">(d)</text>
<line x1="136.50" y1="488.80" x2="136.50" y2="512.70" stroke="#2c2c2c" stroke-width="0.9"/>
<line x1="134.80" y1="488.80" x2="138.20" y2="488.80" stroke="#2c2c2c" stroke-width="0.9"/>
<line x1="134.80" y1="512.70" x2="138.20" y2="512.70" stroke="#2c2c2c" stroke-width="0.9"/>
<line x1="163.70" y1="493.00" x2="163.70" y2="508.20" stroke="#2c2c2c" stroke-width="0.9"/>
<line x1="162.00" y1="493.00" x2="165.40" y2="493.00" stroke="#2c2c2c" stroke-width="0.9"/>
<line x1="162.00" y1="508.20" x2="165.40" y2="508.20" stroke="#2c2c2c" stroke-width="0.9"/>
<line x1="190.90" y1="490.20" x2="190.90" y2="507.10" stroke="#2c2c2c" stroke-width="0.9"/>
<line x1="189.20" y1="490.20" x2="192.60" y2="490.20" stroke="#2c2c2c" stroke-width="0.9"/>
<line x1="189.20" y1="507.10" x2="192.60" y2="507.10" stroke="#2c2c2c" stroke-width="0.9"/>
<line x1="218.10" y1="469.00" x2="218.10" y2="504.30" stroke="#2c2c2c" stroke-width="0.9"/>
<line x1="216.40" y1="469.00" x2="219.80" y2="469.00" stroke="#2c2c2c" stroke-width="0.9"/>
<line x1="216.40" y1="504.30" x2="219.80" y2="504.30" stroke="#2c2c2c" stroke-width="0.9"/>
<polyline points="136.50,500.50 163.70,500.50 190.90,498.80 218.10,486.50" fill="none" stroke="#111" stroke-width="1.1"/>
<circle cx="136.50" cy="500.50" r="1.70" fill="#000" stroke="none" stroke-width="1"/>
<circle cx="163.70" cy="500.50" r="1.70" fill="#000" stroke="none" stroke-width="1"/>
<circle cx="190.90" cy="498.80" r="1.70" fill="#000" stroke="none" stroke-width="1"/>
<circle cx="218.10" cy="486.50" r="1.70" fill="#000" stroke="none" stroke-width="1"/>
<path d="M135.00 461.50V455.30H217.40V461.50" stroke="#111" stroke-width="1.2" fill="none" stroke-linejoin="miter"/>
<text x="176.30" y="451.14" font-size="7.0" text-anchor="middle" font-family='"Liberation Serif", serif' font-weight="normal" font-style="normal" fill="#222" stroke="#222" stroke-width="0.22">ns</text>
<path d="M135.00 472.50V466.50H191.70V472.50" stroke="#111" stroke-width="1.2" fill="none" stroke-linejoin="miter"/>
<text x="163.30" y="461.84" font-size="7.0" text-anchor="middle" font-family='"Liberation Serif", serif' font-weight="normal" font-style="normal" fill="#222" stroke="#222" stroke-width="0.22">ns</text>
<path d="M135.00 481.40V477.20H164.10V481.40" stroke="#111" stroke-width="1.2" fill="none" stroke-linejoin="miter"/>
<text x="149.50" y="473.04" font-size="7.0" text-anchor="middle" font-family='"Liberation Serif", serif' font-weight="normal" font-style="normal" fill="#222" stroke="#222" stroke-width="0.22">ns</text>
<line x1="304.90" y1="457.70" x2="304.90" y2="541.50" stroke="#111" stroke-width="1.0"/>
<line x1="304.40" y1="541.50" x2="423.70" y2="541.50" stroke="#111" stroke-width="1.0"/>
<line x1="302.30" y1="457.70" x2="304.90" y2="457.70" stroke="#111" stroke-width="1.0"/>
<text x="301.30" y="459.68" font-size="6.0" text-anchor="end" font-family='"Liberation Serif", serif' font-weight="bold" font-style="normal" fill="#111" stroke="#111" stroke-width="0.26">55000</text>
<line x1="302.30" y1="471.60" x2="304.90" y2="471.60" stroke="#111" stroke-width="1.0"/>
<text x="301.30" y="473.58" font-size="6.0" text-anchor="end" font-family='"Liberation Serif", serif' font-weight="bold" font-style="normal" fill="#111" stroke="#111" stroke-width="0.26">50000</text>
<line x1="302.30" y1="485.50" x2="304.90" y2="485.50" stroke="#111" stroke-width="1.0"/>
<text x="301.30" y="487.48" font-size="6.0" text-anchor="end" font-family='"Liberation Serif", serif' font-weight="bold" font-style="normal" fill="#111" stroke="#111" stroke-width="0.26">45000</text>
<line x1="302.30" y1="499.60" x2="304.90" y2="499.60" stroke="#111" stroke-width="1.0"/>
<text x="301.30" y="501.58" font-size="6.0" text-anchor="end" font-family='"Liberation Serif", serif' font-weight="bold" font-style="normal" fill="#111" stroke="#111" stroke-width="0.26">40000</text>
<line x1="302.30" y1="513.50" x2="304.90" y2="513.50" stroke="#111" stroke-width="1.0"/>
<text x="301.30" y="515.48" font-size="6.0" text-anchor="end" font-family='"Liberation Serif", serif' font-weight="bold" font-style="normal" fill="#111" stroke="#111" stroke-width="0.26">35000</text>
<line x1="302.30" y1="527.40" x2="304.90" y2="527.40" stroke="#111" stroke-width="1.0"/>
<text x="301.30" y="529.38" font-size="6.0" text-anchor="end" font-family='"Liberation Serif", serif' font-weight="bold" font-style="normal" fill="#111" stroke="#111" stroke-width="0.26">30000</text>
<line x1="302.30" y1="541.50" x2="304.90" y2="541.50" stroke="#111" stroke-width="1.0"/>
<text x="301.30" y="543.48" font-size="6.0" text-anchor="end" font-family='"Liberation Serif", serif' font-weight="bold" font-style="normal" fill="#111" stroke="#111" stroke-width="0.26">25000</text>
<line x1="325.50" y1="541.50" x2="325.50" y2="543.90" stroke="#111" stroke-width="1.0"/>
<text x="325.50" y="549.65" font-size="5.3" text-anchor="middle" font-family='"Liberation Serif", serif' font-weight="bold" font-style="italic" fill="#111" stroke="#111" stroke-width="0.24">15-30</text>
<line x1="352.10" y1="541.50" x2="352.10" y2="543.90" stroke="#111" stroke-width="1.0"/>
<text x="352.10" y="549.65" font-size="5.3" text-anchor="middle" font-family='"Liberation Serif", serif' font-weight="bold" font-style="italic" fill="#111" stroke="#111" stroke-width="0.24">31-44</text>
<line x1="379.30" y1="541.50" x2="379.30" y2="543.90" stroke="#111" stroke-width="1.0"/>
<text x="379.30" y="549.65" font-size="5.3" text-anchor="middle" font-family='"Liberation Serif", serif' font-weight="bold" font-style="italic" fill="#111" stroke="#111" stroke-width="0.24">45-59</text>
<line x1="405.90" y1="541.50" x2="405.90" y2="543.90" stroke="#111" stroke-width="1.0"/>
<text x="405.90" y="549.65" font-size="5.3" text-anchor="middle" font-family='"Liberation Serif", serif' font-weight="bold" font-style="italic" fill="#111" stroke="#111" stroke-width="0.24">60-79</text>
<text x="283.40" y="499.90" font-size="6.3" text-anchor="middle" font-family='"Liberation Serif", serif' font-weight="normal" font-style="normal" fill="#1a1a1a" transform="rotate(-90 283.40 499.90)" stroke="#222" stroke-width="0.18">Abundance</text>
<text x="365.80" y="435.39" font-size="8.2" text-anchor="middle" font-family='"Liberation Serif", serif' font-weight="normal" font-style="normal" fill="#111" textLength="17.3" lengthAdjust="spacingAndGlyphs" stroke="#111" stroke-width="0.28">MSN</text>
<text x="266.20" y="445.60" font-size="13" text-anchor="start" font-family='"Liberation Serif", serif' font-weight="normal" font-style="normal" fill="#222" dx="0 0.3 0.5" dy="0 0.5 -0.5">(e)</text>
<line x1="325.50" y1="492.40" x2="325.50" y2="497.40" stroke="#3a3a3a" stroke-width="0.85"/>
<line x1="323.80" y1="492.40" x2="327.20" y2="492.40" stroke="#3a3a3a" stroke-width="0.85"/>
<line x1="323.80" y1="497.40" x2="327.20" y2="497.40" stroke="#3a3a3a" stroke-width="0.85"/>
<line x1="352.10" y1="498.50" x2="352.10" y2="529.90" stroke="#3a3a3a" stroke-width="0.85"/>
<line x1="350.40" y1="498.50" x2="353.80" y2="498.50" stroke="#3a3a3a" stroke-width="0.85"/>
<line x1="350.40" y1="529.90" x2="353.80" y2="529.90" stroke="#3a3a3a" stroke-width="0.85"/>
<line x1="379.30" y1="469.40" x2="379.30" y2="484.40" stroke="#3a3a3a" stroke-width="0.85"/>
<line x1="377.60" y1="469.40" x2="381.00" y2="469.40" stroke="#3a3a3a" stroke-width="0.85"/>
<line x1="377.60" y1="484.40" x2="381.00" y2="484.40" stroke="#3a3a3a" stroke-width="0.85"/>
<line x1="405.90" y1="521.30" x2="405.90" y2="530.40" stroke="#3a3a3a" stroke-width="0.85"/>
<line x1="404.20" y1="521.30" x2="407.60" y2="521.30" stroke="#3a3a3a" stroke-width="0.85"/>
<line x1="404.20" y1="530.40" x2="407.60" y2="530.40" stroke="#3a3a3a" stroke-width="0.85"/>
<polyline points="325.50,494.90 352.10,514.30 379.30,477.10 405.90,525.70" fill="none" stroke="#111" stroke-width="1.1"/>
<circle cx="325.50" cy="494.90" r="1.70" fill="#000" stroke="none" stroke-width="1"/>
<circle cx="352.10" cy="514.30" r="1.70" fill="#000" stroke="none" stroke-width="1"/>
<circle cx="379.30" cy="477.10" r="1.70" fill="#000" stroke="none" stroke-width="1"/>
<circle cx="405.90" cy="525.70" r="1.70" fill="#000" stroke="none" stroke-width="1"/>
<path d="M323.00 448.80V444.90H409.00V448.80" stroke="#111" stroke-width="1.1" fill="none" stroke-linejoin="miter"/>
<text x="366.20" y="445.46" font-size="12" text-anchor="middle" font-family='"Liberation Sans", sans-serif' font-weight="bold" font-style="normal" fill="#111" stroke="#111" stroke-width="0.3" stroke-linejoin="round">***</text>
<path d="M323.00 458.70V455.20H379.40V458.70" stroke="#111" stroke-width="1.1" fill="none" stroke-linejoin="miter"/>
<text x="351.20" y="455.56" font-size="12" text-anchor="middle" font-family='"Liberation Sans", sans-serif' font-weight="bold" font-style="normal" fill="#111" stroke="#111" stroke-width="0.3" stroke-linejoin="round">***</text>
<path d="M323.00 472.50V469.10H352.20V472.50" stroke="#111" stroke-width="1.1" fill="none" stroke-linejoin="miter"/>
<text x="337.50" y="467.95" font-size="10" text-anchor="middle" font-family='"Liberation Sans", sans-serif' font-weight="bold" font-style="normal" fill="#111" stroke="#111" stroke-width="0.3" stroke-linejoin="round">*</text>
</g>
<g id="panelD">
<text x="494.00" y="287.60" font-size="17" text-anchor="start" font-family='"Liberation Serif", serif' font-weight="bold" font-style="normal" fill="#000">D</text>
<line x1="553.50" y1="334.50" x2="612.00" y2="344.00" stroke="#c3d44c" stroke-width="0.9"/>
<line x1="553.50" y1="334.50" x2="578.30" y2="376.50" stroke="#c3d44c" stroke-width="0.9"/>
<line x1="612.00" y1="344.00" x2="578.30" y2="376.50" stroke="#c3d44c" stroke-width="0.9"/>
<line x1="577.00" y1="376.50" x2="573.10" y2="417.00" stroke="#a97fd6" stroke-width="0.9"/>
<line x1="577.90" y1="376.50" x2="574.00" y2="417.00" stroke="#e58acb" stroke-width="0.9"/>
<line x1="579.30" y1="376.50" x2="575.40" y2="417.00" stroke="#c3d44c" stroke-width="0.9"/>
<defs><radialGradient id="n1" cx="0.5" cy="0.66" r="0.68" fx="0.5" fy="0.74"><stop offset="0" stop-color="#f7a0a8"/><stop offset="0.55" stop-color="#df6a78"/><stop offset="1" stop-color="#a8404c"/></radialGradient><linearGradient id="n1g" x1="0" y1="0" x2="0" y2="1"><stop offset="0" stop-color="#fff" stop-opacity="0.95"/><stop offset="1" stop-color="#fff" stop-opacity="0.05"/></linearGradient></defs>
<ellipse cx="553.80" cy="335.40" rx="8.75" ry="8.65" fill="#2a3a30" opacity="0.55"/>
<circle cx="553.50" cy="334.50" r="8.40" fill="url(#n1)" stroke="#a8404c" stroke-width="0.45"/>
<ellipse cx="553.50" cy="329.20" rx="4.6" ry="2.2" fill="url(#n1g)"/>
<defs><radialGradient id="n2" cx="0.5" cy="0.66" r="0.68" fx="0.5" fy="0.74"><stop offset="0" stop-color="#f4f4c4"/><stop offset="0.55" stop-color="#d6d68e"/><stop offset="1" stop-color="#96965a"/></radialGradient><linearGradient id="n2g" x1="0" y1="0" x2="0" y2="1"><stop offset="0" stop-color="#fff" stop-opacity="0.95"/><stop offset="1" stop-color="#fff" stop-opacity="0.05"/></linearGradient></defs>
<ellipse cx="612.30" cy="344.90" rx="8.75" ry="8.65" fill="#2a3a30" opacity="0.55"/>
<circle cx="612.00" cy="344.00" r="8.40" fill="url(#n2)" stroke="#96965a" stroke-width="0.45"/>
<ellipse cx="612.00" cy="338.70" rx="4.6" ry="2.2" fill="url(#n2g)"/>
<defs><radialGradient id="n3" cx="0.5" cy="0.66" r="0.68" fx="0.5" fy="0.74"><stop offset="0" stop-color="#cdf6f2"/><stop offset="0.55" stop-color="#9be2da"/><stop offset="1" stop-color="#58a4a0"/></radialGradient><linearGradient id="n3g" x1="0" y1="0" x2="0" y2="1"><stop offset="0" stop-color="#fff" stop-opacity="0.95"/><stop offset="1" stop-color="#fff" stop-opacity="0.05"/></linearGradient></defs>
<ellipse cx="578.60" cy="377.40" rx="8.75" ry="8.65" fill="#2a3a30" opacity="0.55"/>
<circle cx="578.30" cy="376.50" r="8.40" fill="url(#n3)" stroke="#58a4a0" stroke-width="0.45"/>
<ellipse cx="578.30" cy="371.20" rx="4.6" ry="2.2" fill="url(#n3g)"/>
<defs><radialGradient id="n4" cx="0.5" cy="0.66" r="0.68" fx="0.5" fy="0.74"><stop offset="0" stop-color="#9ade8c"/><stop offset="0.55" stop-color="#66bc58"/><stop offset="1" stop-color="#2f7a2c"/></radialGradient><linearGradient id="n4g" x1="0" y1="0" x2="0" y2="1"><stop offset="0" stop-color="#fff" stop-opacity="0.95"/><stop offset="1" stop-color="#fff" stop-opacity="0.05"/></linearGradient></defs>
<ellipse cx="623.30" cy="389.80" rx="8.75" ry="8.65" fill="#2a3a30" opacity="0.55"/>
<circle cx="623.00" cy="388.90" r="8.40" fill="url(#n4)" stroke="#2f7a2c" stroke-width="0.45"/>
<ellipse cx="623.00" cy="383.60" rx="4.6" ry="2.2" fill="url(#n4g)"/>
<defs><radialGradient id="n5" cx="0.5" cy="0.66" r="0.68" fx="0.5" fy="0.74"><stop offset="0" stop-color="#a2a8ea"/><stop offset="0.55" stop-color="#7078cc"/><stop offset="1" stop-color="#383e8c"/></radialGradient><linearGradient id="n5g" x1="0" y1="0" x2="0" y2="1"><stop offset="0" stop-color="#fff" stop-opacity="0.95"/><stop offset="1" stop-color="#fff" stop-opacity="0.05"/></linearGradient></defs>
<ellipse cx="574.70" cy="417.90" rx="8.75" ry="8.65" fill="#2a3a30" opacity="0.55"/>
<circle cx="574.40" cy="417.00" r="8.40" fill="url(#n5)" stroke="#383e8c" stroke-width="0.45"/>
<ellipse cx="574.40" cy="411.70" rx="4.6" ry="2.2" fill="url(#n5g)"/>
<path d="M550.6 333.6q2.4-1.6 4.8-0.4M551.2 336.0q2.2-1.2 4.2-0.2" stroke="#f39a1c" stroke-width="0.95" fill="none" stroke-linecap="round"/>
<path d="M608.6 343.4q1.4-1.8 2.8-0.2t2.8 0.2" stroke="#1f8f7c" stroke-width="1.3" fill="none" stroke-linecap="round"/>
<path d="M609.6 345.6q1.6 0.8 3.0-0.4t2.6 0.2" stroke="#45b23c" stroke-width="1.4" fill="none" stroke-linecap="round"/>
<path d="M613.8 343.0q1.6 0.6 1.4 2.6" stroke="#b7d32a" stroke-width="1.0" fill="none" stroke-linecap="round"/>
<path d="M609.0 344.6l1.2 0.2" stroke="#2a5ab8" stroke-width="0.9" fill="none" stroke-linecap="round"/>
<path d="M575.8 374.4l1.8 2.8 2.2-3.0M579.0 378.2l1.6-2.0" stroke="#a6dcb4" stroke-width="0.8" fill="none" stroke-linecap="round"/>
<path d="M620.6 391.0l2.0-3.6 1.6 1.6M621.2 389.2l3.0 1.4M620.8 390.4l3.2-0.8" stroke="#1c6078" stroke-width="1.35" fill="none" stroke-linecap="round" stroke-linejoin="round"/>
<path d="M624.4 389.0l2.2-0.6" stroke="#e0902c" stroke-width="0.7" fill="none" stroke-linecap="round"/>
<path d="M571.2 419.6l1.6-4.4 1.4 3.6 1.8-4.0 1.2 3.2M572.2 420.6l3.6-1.0" stroke="#4a30b8" stroke-width="0.85" fill="none" stroke-linecap="round" stroke-linejoin="round"/>
<text x="561.40" y="326.73" font-size="5.1" text-anchor="start" font-family='"Liberation Sans", sans-serif' font-weight="normal" font-style="normal" fill="#222" stroke="#333" stroke-width="0.12">WNK1</text>
<text x="619.30" y="336.03" font-size="5.1" text-anchor="start" font-family='"Liberation Sans", sans-serif' font-weight="normal" font-style="normal" fill="#222" stroke="#333" stroke-width="0.12">WASL</text>
<text x="586.00" y="368.73" font-size="5.1" text-anchor="start" font-family='"Liberation Sans", sans-serif' font-weight="normal" font-style="normal" fill="#222" stroke="#333" stroke-width="0.12">MSN</text>
<text x="630.70" y="381.33" font-size="5.1" text-anchor="start" font-family='"Liberation Sans", sans-serif' font-weight="normal" font-style="normal" fill="#222" stroke="#333" stroke-width="0.12">SPNS2</text>
<text x="582.10" y="409.63" font-size="5.1" text-anchor="start" font-family='"Liberation Sans", sans-serif' font-weight="normal" font-style="normal" fill="#222" stroke="#333" stroke-width="0.12">STK10</text>
</g>
</svg></body></html>
